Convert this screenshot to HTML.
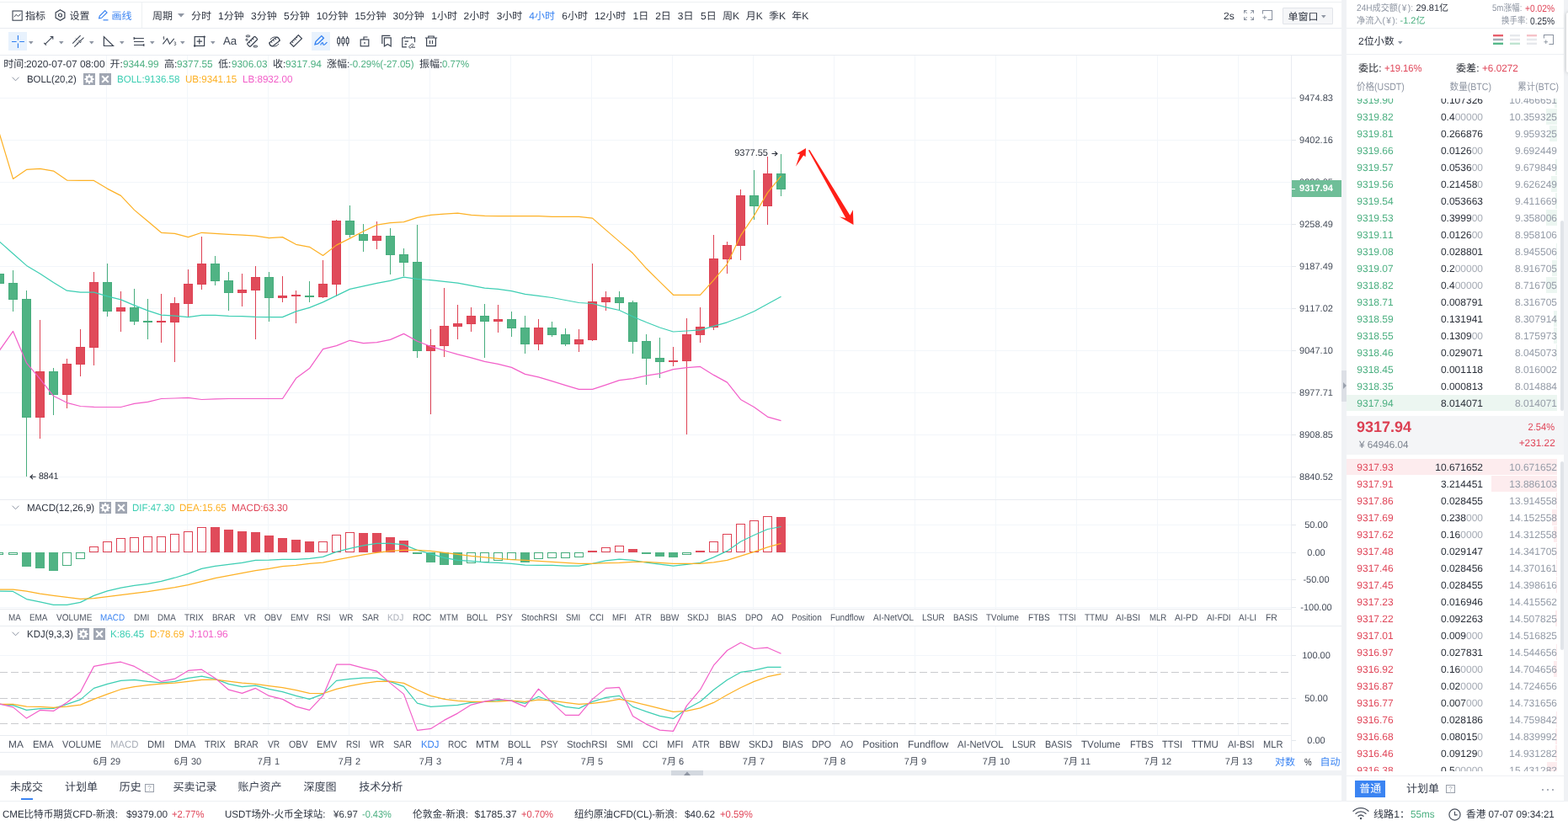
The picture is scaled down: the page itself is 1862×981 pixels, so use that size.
<!DOCTYPE html><html lang="zh"><head><meta charset="utf-8"><title>BTC/USDT</title><style>

html,body{margin:0;padding:0;background:#fff}
body{font-family:"Liberation Sans","Noto Sans CJK SC",sans-serif;font-size:12px;color:#2f3541;font-kerning:none;text-rendering:geometricPrecision}
#app{position:relative;width:1862px;height:981px;overflow:hidden;background:#fff}
.t{position:absolute;white-space:nowrap;line-height:16px;font-size:12px}
.t span{font-size:inherit}
.b{position:absolute}
.i{position:absolute;overflow:visible}
#chart{position:absolute;left:0;top:0}
.L{position:absolute;left:0;top:0;width:1862px;height:981px;will-change:transform}

</style></head><body>
<div id="app">
<svg id="chart" width="1862" height="981" viewBox="0 0 1862 981"><g shape-rendering="crispEdges"><rect x="126" y="66" width="1" height="527" fill="#f2f6fa"/><rect x="126" y="594" width="1" height="129" fill="#f2f6fa"/><rect x="126" y="744" width="1" height="129" fill="#f2f6fa"/><rect x="222" y="66" width="1" height="527" fill="#f2f6fa"/><rect x="222" y="594" width="1" height="129" fill="#f2f6fa"/><rect x="222" y="744" width="1" height="129" fill="#f2f6fa"/><rect x="318" y="66" width="1" height="527" fill="#f2f6fa"/><rect x="318" y="594" width="1" height="129" fill="#f2f6fa"/><rect x="318" y="744" width="1" height="129" fill="#f2f6fa"/><rect x="414" y="66" width="1" height="527" fill="#f2f6fa"/><rect x="414" y="594" width="1" height="129" fill="#f2f6fa"/><rect x="414" y="744" width="1" height="129" fill="#f2f6fa"/><rect x="510" y="66" width="1" height="527" fill="#f2f6fa"/><rect x="510" y="594" width="1" height="129" fill="#f2f6fa"/><rect x="510" y="744" width="1" height="129" fill="#f2f6fa"/><rect x="606" y="66" width="1" height="527" fill="#f2f6fa"/><rect x="606" y="594" width="1" height="129" fill="#f2f6fa"/><rect x="606" y="744" width="1" height="129" fill="#f2f6fa"/><rect x="702" y="66" width="1" height="527" fill="#f2f6fa"/><rect x="702" y="594" width="1" height="129" fill="#f2f6fa"/><rect x="702" y="744" width="1" height="129" fill="#f2f6fa"/><rect x="798" y="66" width="1" height="527" fill="#f2f6fa"/><rect x="798" y="594" width="1" height="129" fill="#f2f6fa"/><rect x="798" y="744" width="1" height="129" fill="#f2f6fa"/><rect x="894" y="66" width="1" height="527" fill="#f2f6fa"/><rect x="894" y="594" width="1" height="129" fill="#f2f6fa"/><rect x="894" y="744" width="1" height="129" fill="#f2f6fa"/><rect x="990" y="66" width="1" height="527" fill="#f2f6fa"/><rect x="990" y="594" width="1" height="129" fill="#f2f6fa"/><rect x="990" y="744" width="1" height="129" fill="#f2f6fa"/><rect x="1086" y="66" width="1" height="527" fill="#f2f6fa"/><rect x="1086" y="594" width="1" height="129" fill="#f2f6fa"/><rect x="1086" y="744" width="1" height="129" fill="#f2f6fa"/><rect x="1182" y="66" width="1" height="527" fill="#f2f6fa"/><rect x="1182" y="594" width="1" height="129" fill="#f2f6fa"/><rect x="1182" y="744" width="1" height="129" fill="#f2f6fa"/><rect x="1278" y="66" width="1" height="527" fill="#f2f6fa"/><rect x="1278" y="594" width="1" height="129" fill="#f2f6fa"/><rect x="1278" y="744" width="1" height="129" fill="#f2f6fa"/><rect x="1374" y="66" width="1" height="527" fill="#f2f6fa"/><rect x="1374" y="594" width="1" height="129" fill="#f2f6fa"/><rect x="1374" y="744" width="1" height="129" fill="#f2f6fa"/><rect x="1470" y="66" width="1" height="527" fill="#f2f6fa"/><rect x="1470" y="594" width="1" height="129" fill="#f2f6fa"/><rect x="1470" y="744" width="1" height="129" fill="#f2f6fa"/><rect x="0" y="116" width="1533" height="1" fill="#f2f6fa"/><rect x="0" y="166" width="1533" height="1" fill="#f2f6fa"/><rect x="0" y="216" width="1533" height="1" fill="#f2f6fa"/><rect x="0" y="266" width="1533" height="1" fill="#f2f6fa"/><rect x="0" y="316" width="1533" height="1" fill="#f2f6fa"/><rect x="0" y="366" width="1533" height="1" fill="#f2f6fa"/><rect x="0" y="416" width="1533" height="1" fill="#f2f6fa"/><rect x="0" y="466" width="1533" height="1" fill="#f2f6fa"/><rect x="0" y="516" width="1533" height="1" fill="#f2f6fa"/><rect x="0" y="566" width="1533" height="1" fill="#f2f6fa"/><rect x="0" y="623" width="1533" height="1" fill="#f2f6fa"/><rect x="0" y="656" width="1533" height="1" fill="#f2f6fa"/><rect x="0" y="688" width="1533" height="1" fill="#f2f6fa"/><rect x="0" y="721" width="1533" height="1" fill="#f2f6fa"/><rect x="0" y="778" width="1533" height="1" fill="#f2f6fa"/></g><line x1="0" y1="798.5" x2="1530" y2="798.5" stroke="#cacbce" stroke-width="1" stroke-dasharray="8.400 4.600" stroke-dashoffset="-0.200" shape-rendering="crispEdges"/><line x1="0" y1="829.5" x2="1530" y2="829.5" stroke="#cacbce" stroke-width="1" stroke-dasharray="8.400 4.600" stroke-dashoffset="-0.200" shape-rendering="crispEdges"/><line x1="0" y1="859.5" x2="1530" y2="859.5" stroke="#cacbce" stroke-width="1" stroke-dasharray="8.400 4.600" stroke-dashoffset="-0.200" shape-rendering="crispEdges"/><g shape-rendering="crispEdges"><rect x="-1" y="320" width="1" height="25" fill="#47ad7d"/><rect x="-6" y="325" width="11" height="12" fill="#47ad7d"/><rect x="-5" y="326" width="9" height="10" fill="#50b384"/><rect x="15" y="321" width="1" height="49" fill="#47ad7d"/><rect x="10" y="336" width="11" height="20" fill="#47ad7d"/><rect x="11" y="337" width="9" height="18" fill="#50b384"/><rect x="31" y="345" width="1" height="221" fill="#47ad7d"/><rect x="26" y="355" width="11" height="141" fill="#47ad7d"/><rect x="27" y="356" width="9" height="139" fill="#50b384"/><rect x="47" y="380" width="1" height="141" fill="#de4254"/><rect x="42" y="441" width="11" height="55" fill="#de4254"/><rect x="43" y="442" width="9" height="53" fill="#e04b5a"/><rect x="63" y="437" width="1" height="56" fill="#47ad7d"/><rect x="58" y="441" width="11" height="28" fill="#47ad7d"/><rect x="59" y="442" width="9" height="26" fill="#50b384"/><rect x="79" y="426" width="1" height="59" fill="#de4254"/><rect x="74" y="432" width="11" height="37" fill="#de4254"/><rect x="75" y="433" width="9" height="35" fill="#e04b5a"/><rect x="95" y="391" width="1" height="56" fill="#de4254"/><rect x="90" y="412" width="11" height="21" fill="#de4254"/><rect x="91" y="413" width="9" height="19" fill="#e04b5a"/><rect x="111" y="323" width="1" height="111" fill="#de4254"/><rect x="106" y="335" width="11" height="78" fill="#de4254"/><rect x="107" y="336" width="9" height="76" fill="#e04b5a"/><rect x="127" y="313" width="1" height="63" fill="#47ad7d"/><rect x="122" y="335" width="11" height="35" fill="#47ad7d"/><rect x="123" y="336" width="9" height="33" fill="#50b384"/><rect x="143" y="346" width="1" height="48" fill="#de4254"/><rect x="138" y="365" width="11" height="5" fill="#de4254"/><rect x="139" y="366" width="9" height="3" fill="#e04b5a"/><rect x="159" y="343" width="1" height="43" fill="#47ad7d"/><rect x="154" y="365" width="11" height="17" fill="#47ad7d"/><rect x="155" y="366" width="9" height="15" fill="#50b384"/><rect x="175" y="355" width="1" height="48" fill="#47ad7d"/><rect x="170" y="381" width="11" height="2" fill="#47ad7d"/><rect x="191" y="349" width="1" height="58" fill="#de4254"/><rect x="186" y="381" width="11" height="2" fill="#de4254"/><rect x="207" y="353" width="1" height="77" fill="#de4254"/><rect x="202" y="360" width="11" height="23" fill="#de4254"/><rect x="203" y="361" width="9" height="21" fill="#e04b5a"/><rect x="223" y="320" width="1" height="56" fill="#de4254"/><rect x="218" y="337" width="11" height="24" fill="#de4254"/><rect x="219" y="338" width="9" height="22" fill="#e04b5a"/><rect x="239" y="281" width="1" height="63" fill="#de4254"/><rect x="234" y="313" width="11" height="25" fill="#de4254"/><rect x="235" y="314" width="9" height="23" fill="#e04b5a"/><rect x="255" y="304" width="1" height="35" fill="#47ad7d"/><rect x="250" y="313" width="11" height="21" fill="#47ad7d"/><rect x="251" y="314" width="9" height="19" fill="#50b384"/><rect x="271" y="323" width="1" height="46" fill="#47ad7d"/><rect x="266" y="333" width="11" height="15" fill="#47ad7d"/><rect x="267" y="334" width="9" height="13" fill="#50b384"/><rect x="287" y="325" width="1" height="39" fill="#de4254"/><rect x="282" y="344" width="11" height="4" fill="#de4254"/><rect x="283" y="345" width="9" height="2" fill="#e04b5a"/><rect x="303" y="316" width="1" height="87" fill="#de4254"/><rect x="298" y="329" width="11" height="16" fill="#de4254"/><rect x="299" y="330" width="9" height="14" fill="#e04b5a"/><rect x="319" y="323" width="1" height="59" fill="#47ad7d"/><rect x="314" y="329" width="11" height="25" fill="#47ad7d"/><rect x="315" y="330" width="9" height="23" fill="#50b384"/><rect x="335" y="328" width="1" height="31" fill="#de4254"/><rect x="330" y="351" width="11" height="3" fill="#de4254"/><rect x="331" y="352" width="9" height="1" fill="#e04b5a"/><rect x="351" y="345" width="1" height="39" fill="#de4254"/><rect x="346" y="350" width="11" height="2" fill="#de4254"/><rect x="367" y="334" width="1" height="25" fill="#47ad7d"/><rect x="362" y="351" width="11" height="2" fill="#47ad7d"/><rect x="383" y="309" width="1" height="45" fill="#de4254"/><rect x="378" y="337" width="11" height="16" fill="#de4254"/><rect x="379" y="338" width="9" height="14" fill="#e04b5a"/><rect x="399" y="261" width="1" height="91" fill="#de4254"/><rect x="394" y="262" width="11" height="76" fill="#de4254"/><rect x="395" y="263" width="9" height="74" fill="#e04b5a"/><rect x="415" y="244" width="1" height="38" fill="#47ad7d"/><rect x="410" y="262" width="11" height="17" fill="#47ad7d"/><rect x="411" y="263" width="9" height="15" fill="#50b384"/><rect x="431" y="266" width="1" height="33" fill="#47ad7d"/><rect x="426" y="278" width="11" height="8" fill="#47ad7d"/><rect x="427" y="279" width="9" height="6" fill="#50b384"/><rect x="447" y="263" width="1" height="33" fill="#de4254"/><rect x="442" y="280" width="11" height="6" fill="#de4254"/><rect x="443" y="281" width="9" height="4" fill="#e04b5a"/><rect x="463" y="271" width="1" height="55" fill="#47ad7d"/><rect x="458" y="280" width="11" height="23" fill="#47ad7d"/><rect x="459" y="281" width="9" height="21" fill="#50b384"/><rect x="479" y="295" width="1" height="33" fill="#47ad7d"/><rect x="474" y="302" width="11" height="10" fill="#47ad7d"/><rect x="475" y="303" width="9" height="8" fill="#50b384"/><rect x="495" y="267" width="1" height="158" fill="#47ad7d"/><rect x="490" y="311" width="11" height="106" fill="#47ad7d"/><rect x="491" y="312" width="9" height="104" fill="#50b384"/><rect x="511" y="391" width="1" height="101" fill="#de4254"/><rect x="506" y="410" width="11" height="7" fill="#de4254"/><rect x="507" y="411" width="9" height="5" fill="#e04b5a"/><rect x="527" y="342" width="1" height="82" fill="#de4254"/><rect x="522" y="387" width="11" height="24" fill="#de4254"/><rect x="523" y="388" width="9" height="22" fill="#e04b5a"/><rect x="543" y="362" width="1" height="41" fill="#de4254"/><rect x="538" y="384" width="11" height="4" fill="#de4254"/><rect x="539" y="385" width="9" height="2" fill="#e04b5a"/><rect x="559" y="365" width="1" height="29" fill="#de4254"/><rect x="554" y="375" width="11" height="10" fill="#de4254"/><rect x="555" y="376" width="9" height="8" fill="#e04b5a"/><rect x="575" y="361" width="1" height="64" fill="#47ad7d"/><rect x="570" y="375" width="11" height="7" fill="#47ad7d"/><rect x="571" y="376" width="9" height="5" fill="#50b384"/><rect x="591" y="362" width="1" height="33" fill="#de4254"/><rect x="586" y="379" width="11" height="3" fill="#de4254"/><rect x="587" y="380" width="9" height="1" fill="#e04b5a"/><rect x="607" y="370" width="1" height="30" fill="#47ad7d"/><rect x="602" y="379" width="11" height="11" fill="#47ad7d"/><rect x="603" y="380" width="9" height="9" fill="#50b384"/><rect x="623" y="375" width="1" height="45" fill="#47ad7d"/><rect x="618" y="389" width="11" height="20" fill="#47ad7d"/><rect x="619" y="390" width="9" height="18" fill="#50b384"/><rect x="639" y="379" width="1" height="37" fill="#de4254"/><rect x="634" y="389" width="11" height="20" fill="#de4254"/><rect x="635" y="390" width="9" height="18" fill="#e04b5a"/><rect x="655" y="382" width="1" height="18" fill="#47ad7d"/><rect x="650" y="389" width="11" height="9" fill="#47ad7d"/><rect x="651" y="390" width="9" height="7" fill="#50b384"/><rect x="671" y="390" width="1" height="21" fill="#47ad7d"/><rect x="666" y="397" width="11" height="12" fill="#47ad7d"/><rect x="667" y="398" width="9" height="10" fill="#50b384"/><rect x="687" y="391" width="1" height="27" fill="#de4254"/><rect x="682" y="403" width="11" height="6" fill="#de4254"/><rect x="683" y="404" width="9" height="4" fill="#e04b5a"/><rect x="703" y="313" width="1" height="92" fill="#de4254"/><rect x="698" y="358" width="11" height="46" fill="#de4254"/><rect x="699" y="359" width="9" height="44" fill="#e04b5a"/><rect x="719" y="346" width="1" height="23" fill="#de4254"/><rect x="714" y="353" width="11" height="6" fill="#de4254"/><rect x="715" y="354" width="9" height="4" fill="#e04b5a"/><rect x="735" y="346" width="1" height="23" fill="#47ad7d"/><rect x="730" y="353" width="11" height="7" fill="#47ad7d"/><rect x="731" y="354" width="9" height="5" fill="#50b384"/><rect x="751" y="357" width="1" height="63" fill="#47ad7d"/><rect x="746" y="359" width="11" height="47" fill="#47ad7d"/><rect x="747" y="360" width="9" height="45" fill="#50b384"/><rect x="767" y="397" width="1" height="60" fill="#47ad7d"/><rect x="762" y="405" width="11" height="21" fill="#47ad7d"/><rect x="763" y="406" width="9" height="19" fill="#50b384"/><rect x="783" y="401" width="1" height="48" fill="#47ad7d"/><rect x="778" y="425" width="11" height="5" fill="#47ad7d"/><rect x="779" y="426" width="9" height="3" fill="#50b384"/><rect x="799" y="412" width="1" height="23" fill="#de4254"/><rect x="794" y="428" width="11" height="2" fill="#de4254"/><rect x="815" y="378" width="1" height="138" fill="#de4254"/><rect x="810" y="397" width="11" height="32" fill="#de4254"/><rect x="811" y="398" width="9" height="30" fill="#e04b5a"/><rect x="831" y="365" width="1" height="42" fill="#de4254"/><rect x="826" y="388" width="11" height="10" fill="#de4254"/><rect x="827" y="389" width="9" height="8" fill="#e04b5a"/><rect x="847" y="279" width="1" height="113" fill="#de4254"/><rect x="842" y="307" width="11" height="82" fill="#de4254"/><rect x="843" y="308" width="9" height="80" fill="#e04b5a"/><rect x="863" y="287" width="1" height="38" fill="#de4254"/><rect x="858" y="291" width="11" height="17" fill="#de4254"/><rect x="859" y="292" width="9" height="15" fill="#e04b5a"/><rect x="879" y="225" width="1" height="84" fill="#de4254"/><rect x="874" y="232" width="11" height="60" fill="#de4254"/><rect x="875" y="233" width="9" height="58" fill="#e04b5a"/><rect x="895" y="202" width="1" height="59" fill="#47ad7d"/><rect x="890" y="232" width="11" height="13" fill="#47ad7d"/><rect x="891" y="233" width="9" height="11" fill="#50b384"/><rect x="911" y="186" width="1" height="81" fill="#de4254"/><rect x="906" y="206" width="11" height="39" fill="#de4254"/><rect x="907" y="207" width="9" height="37" fill="#e04b5a"/><rect x="927" y="183" width="1" height="50" fill="#47ad7d"/><rect x="922" y="206" width="11" height="19" fill="#47ad7d"/><rect x="923" y="207" width="9" height="17" fill="#50b384"/></g><polyline points="-0.5,159.2 15.5,212.4 31.5,201.4 47.5,200.4 63.5,203.1 79.5,214.1 95.5,214.4 111.5,214.4 127.5,224.1 143.5,232.4 159.5,249.4 175.5,262.8 191.5,276.3 207.5,277.3 223.5,281.6 239.5,276.3 255.5,277.3 271.5,278.3 287.5,279.1 303.5,280.1 319.5,282.6 335.5,281.6 351.5,290.3 367.5,293.3 383.5,303.5 399.5,291.1 415.5,283.1 431.5,274.8 447.5,267.1 463.5,264.6 479.5,263.6 495.5,258.4 511.5,255.4 527.5,254.1 543.5,253.1 559.5,255.4 575.5,256.4 591.5,256.6 607.5,256.6 623.5,256.6 639.5,256.6 655.5,257.4 671.5,257.4 687.5,257.4 703.5,259.1 719.5,273.1 735.5,286.9 751.5,300.8 767.5,318.8 783.5,334.6 799.5,350.3 815.5,350.3 831.5,350.3 847.5,332.6 863.5,313.6 879.5,279.9 895.5,256.1 911.5,228.9 927.5,209.2" fill="none" stroke="#fdb125" stroke-width="1.2" stroke-linejoin="round"/><polyline points="-0.5,287.0 15.5,301.2 31.5,315.4 47.5,324.9 63.5,335.4 79.5,345.2 95.5,347.2 111.5,347.2 127.5,351.9 143.5,355.9 159.5,362.6 175.5,368.9 191.5,374.1 207.5,375.1 223.5,376.6 239.5,374.4 255.5,374.4 271.5,375.4 287.5,375.6 303.5,376.4 319.5,376.6 335.5,376.6 351.5,369.9 367.5,365.4 383.5,358.9 399.5,351.1 415.5,343.4 431.5,339.9 447.5,336.4 463.5,333.4 479.5,329.1 495.5,331.3 511.5,332.6 527.5,334.3 543.5,336.1 559.5,339.1 575.5,342.1 591.5,343.3 607.5,345.6 623.5,349.3 639.5,351.3 655.5,353.5 671.5,356.5 687.5,359.5 703.5,360.5 719.5,364.8 735.5,368.5 751.5,376.0 767.5,382.8 783.5,389.0 799.5,394.0 815.5,393.0 831.5,391.8 847.5,387.3 863.5,382.8 879.5,376.8 895.5,369.8 911.5,361.0 927.5,352.3" fill="none" stroke="#3dceb3" stroke-width="1.2" stroke-linejoin="round"/><polyline points="-0.5,416.1 15.5,393.4 31.5,431.1 47.5,449.8 63.5,470.3 79.5,478.3 95.5,482.5 111.5,483.3 127.5,483.5 143.5,483.5 159.5,479.3 175.5,477.3 191.5,473.5 207.5,473.0 223.5,472.3 239.5,474.5 255.5,473.8 271.5,473.5 287.5,473.5 303.5,473.5 319.5,473.5 335.5,473.5 351.5,449.3 367.5,437.6 383.5,414.6 399.5,410.6 415.5,404.3 431.5,407.6 447.5,406.6 463.5,403.4 479.5,396.4 495.5,405.2 511.5,411.4 527.5,416.2 543.5,420.9 559.5,424.9 575.5,429.4 591.5,432.4 607.5,436.4 623.5,444.4 639.5,447.9 655.5,452.6 671.5,457.6 687.5,462.4 703.5,462.4 719.5,457.1 735.5,451.6 751.5,449.6 767.5,446.1 783.5,443.6 799.5,438.6 815.5,436.6 831.5,435.4 847.5,445.4 863.5,454.1 879.5,474.4 895.5,483.6 911.5,495.1 927.5,499.6" fill="none" stroke="#f25fc9" stroke-width="1.2" stroke-linejoin="round"/><g shape-rendering="crispEdges"><rect x="-6.5" y="656.5" width="10" height="2" fill="#fff" stroke="#47ad7d" stroke-width="1"/><rect x="10.5" y="656.5" width="10" height="2" fill="#fff" stroke="#47ad7d" stroke-width="1"/><rect x="26" y="656" width="11" height="17" fill="#50b384"/><rect x="42" y="656" width="11" height="19" fill="#50b384"/><rect x="58" y="656" width="11" height="22" fill="#50b384"/><rect x="74.5" y="656.5" width="10" height="15" fill="#fff" stroke="#47ad7d" stroke-width="1"/><rect x="90.5" y="656.5" width="10" height="7" fill="#fff" stroke="#47ad7d" stroke-width="1"/><rect x="106.5" y="649.5" width="10" height="6" fill="#fff" stroke="#de4254" stroke-width="1"/><rect x="122.5" y="643.5" width="10" height="12" fill="#fff" stroke="#de4254" stroke-width="1"/><rect x="138.5" y="639.5" width="10" height="16" fill="#fff" stroke="#de4254" stroke-width="1"/><rect x="154.5" y="638.5" width="10" height="17" fill="#fff" stroke="#de4254" stroke-width="1"/><rect x="170.5" y="637.5" width="10" height="18" fill="#fff" stroke="#de4254" stroke-width="1"/><rect x="186.5" y="637.5" width="10" height="18" fill="#fff" stroke="#de4254" stroke-width="1"/><rect x="202.5" y="634.5" width="10" height="21" fill="#fff" stroke="#de4254" stroke-width="1"/><rect x="218.5" y="631.5" width="10" height="24" fill="#fff" stroke="#de4254" stroke-width="1"/><rect x="234.5" y="626.5" width="10" height="29" fill="#fff" stroke="#de4254" stroke-width="1"/><rect x="250" y="626" width="11" height="30" fill="#e04b5a"/><rect x="266" y="629" width="11" height="27" fill="#e04b5a"/><rect x="282" y="631" width="11" height="25" fill="#e04b5a"/><rect x="298" y="632" width="11" height="24" fill="#e04b5a"/><rect x="314" y="636" width="11" height="20" fill="#e04b5a"/><rect x="330" y="639" width="11" height="17" fill="#e04b5a"/><rect x="346" y="641" width="11" height="15" fill="#e04b5a"/><rect x="362" y="643" width="11" height="13" fill="#e04b5a"/><rect x="378.5" y="643.5" width="10" height="12" fill="#fff" stroke="#de4254" stroke-width="1"/><rect x="394.5" y="635.5" width="10" height="20" fill="#fff" stroke="#de4254" stroke-width="1"/><rect x="410.5" y="632.5" width="10" height="23" fill="#fff" stroke="#de4254" stroke-width="1"/><rect x="426" y="633" width="11" height="23" fill="#e04b5a"/><rect x="442" y="633" width="11" height="23" fill="#e04b5a"/><rect x="458" y="638" width="11" height="18" fill="#e04b5a"/><rect x="474" y="642" width="11" height="14" fill="#e04b5a"/><rect x="490" y="656" width="11" height="2" fill="#50b384"/><rect x="506" y="656" width="11" height="12" fill="#50b384"/><rect x="522" y="656" width="11" height="15" fill="#50b384"/><rect x="538" y="656" width="11" height="15" fill="#50b384"/><rect x="554.5" y="656.5" width="10" height="12" fill="#fff" stroke="#47ad7d" stroke-width="1"/><rect x="570.5" y="656.5" width="10" height="11" fill="#fff" stroke="#47ad7d" stroke-width="1"/><rect x="586.5" y="656.5" width="10" height="9" fill="#fff" stroke="#47ad7d" stroke-width="1"/><rect x="602.5" y="656.5" width="10" height="8" fill="#fff" stroke="#47ad7d" stroke-width="1"/><rect x="618" y="656" width="11" height="12" fill="#50b384"/><rect x="634.5" y="656.5" width="10" height="7" fill="#fff" stroke="#47ad7d" stroke-width="1"/><rect x="650.5" y="656.5" width="10" height="6" fill="#fff" stroke="#47ad7d" stroke-width="1"/><rect x="666.5" y="656.5" width="10" height="6" fill="#fff" stroke="#47ad7d" stroke-width="1"/><rect x="682.5" y="656.5" width="10" height="5" fill="#fff" stroke="#47ad7d" stroke-width="1"/><rect x="698" y="654" width="11" height="2" fill="#e04b5a"/><rect x="714.5" y="650.5" width="10" height="5" fill="#fff" stroke="#de4254" stroke-width="1"/><rect x="730.5" y="648.5" width="10" height="7" fill="#fff" stroke="#de4254" stroke-width="1"/><rect x="746" y="652" width="11" height="4" fill="#e04b5a"/><rect x="762" y="656" width="11" height="2" fill="#50b384"/><rect x="778" y="656" width="11" height="5" fill="#50b384"/><rect x="794" y="656" width="11" height="6" fill="#50b384"/><rect x="810.5" y="656.5" width="10" height="2" fill="#fff" stroke="#47ad7d" stroke-width="1"/><rect x="826" y="654" width="11" height="2" fill="#e04b5a"/><rect x="842.5" y="643.5" width="10" height="12" fill="#fff" stroke="#de4254" stroke-width="1"/><rect x="858.5" y="634.5" width="10" height="21" fill="#fff" stroke="#de4254" stroke-width="1"/><rect x="874.5" y="622.5" width="10" height="33" fill="#fff" stroke="#de4254" stroke-width="1"/><rect x="890.5" y="618.5" width="10" height="37" fill="#fff" stroke="#de4254" stroke-width="1"/><rect x="906.5" y="613.5" width="10" height="42" fill="#fff" stroke="#de4254" stroke-width="1"/><rect x="922" y="614" width="11" height="42" fill="#e04b5a"/></g><polyline points="-0.5,702.1 15.5,702.4 31.5,711.6 47.5,714.9 63.5,718.4 79.5,718.4 95.5,715.4 111.5,707.4 127.5,701.9 143.5,698.1 159.5,695.4 175.5,693.4 191.5,690.4 207.5,686.2 223.5,681.4 239.5,675.4 255.5,672.4 271.5,670.4 287.5,668.4 303.5,665.4 319.5,665.2 335.5,664.4 351.5,664.4 367.5,663.4 383.5,661.4 399.5,655.4 415.5,651.4 431.5,647.9 447.5,645.4 463.5,645.4 479.5,646.9 495.5,653.4 511.5,657.9 527.5,662.4 543.5,665.4 559.5,666.4 575.5,667.9 591.5,668.4 607.5,669.4 623.5,671.2 639.5,671.4 655.5,671.4 671.5,672.2 687.5,672.2 703.5,669.4 719.5,665.9 735.5,664.2 751.5,665.4 767.5,668.2 783.5,670.2 799.5,672.2 815.5,670.4 831.5,668.4 847.5,661.9 863.5,654.4 879.5,643.2 895.5,635.5 911.5,628.5 927.5,625.5" fill="none" stroke="#3dceb3" stroke-width="1.2" stroke-linejoin="round"/><polyline points="-0.5,700.1 15.5,700.1 31.5,702.1 47.5,705.1 63.5,707.4 79.5,709.4 95.5,711.4 111.5,710.6 127.5,708.6 143.5,706.6 159.5,704.6 175.5,702.6 191.5,700.1 207.5,697.6 223.5,694.6 239.5,690.6 255.5,686.7 271.5,683.7 287.5,680.7 303.5,677.7 319.5,675.4 335.5,672.7 351.5,671.4 367.5,669.4 383.5,668.2 399.5,664.9 415.5,661.9 431.5,658.9 447.5,656.4 463.5,654.4 479.5,653.4 495.5,653.4 511.5,654.4 527.5,656.4 543.5,658.4 559.5,660.4 575.5,661.9 591.5,663.4 607.5,664.7 623.5,665.4 639.5,666.4 655.5,667.4 671.5,668.4 687.5,669.4 703.5,669.4 719.5,668.7 735.5,668.4 751.5,667.4 767.5,667.4 783.5,668.4 799.5,669.4 815.5,669.4 831.5,669.4 847.5,667.9 863.5,665.4 879.5,660.4 895.5,655.4 911.5,649.9 927.5,645.4" fill="none" stroke="#fdb125" stroke-width="1.2" stroke-linejoin="round"/><polyline points="-0.5,836.4 15.5,837.6 31.5,843.4 47.5,841.6 63.5,841.4 79.5,836.4 95.5,830.9 111.5,817.4 127.5,812.4 143.5,808.4 159.5,807.4 175.5,809.4 191.5,810.9 207.5,809.4 223.5,805.4 239.5,803.2 255.5,806.4 271.5,812.4 287.5,815.7 303.5,814.2 319.5,818.4 335.5,821.7 351.5,826.4 367.5,830.4 383.5,824.4 399.5,808.4 415.5,806.4 431.5,805.2 447.5,805.2 463.5,809.6 479.5,815.4 495.5,835.2 511.5,839.4 527.5,838.4 543.5,837.4 559.5,834.4 575.5,833.4 591.5,831.7 607.5,832.2 623.5,835.4 639.5,827.2 655.5,833.4 671.5,839.4 687.5,841.4 703.5,833.4 719.5,828.4 735.5,826.4 751.5,839.4 767.5,845.1 783.5,850.4 799.5,853.4 815.5,842.1 831.5,833.2 847.5,819.2 863.5,807.4 879.5,798.4 895.5,796.2 911.5,792.4 927.5,792.4" fill="none" stroke="#3dceb3" stroke-width="1.2" stroke-linejoin="round"/><polyline points="-0.5,836.4 15.5,836.4 31.5,839.1 47.5,839.4 63.5,840.4 79.5,839.1 95.5,837.1 111.5,830.4 127.5,824.4 143.5,818.7 159.5,815.7 175.5,813.7 191.5,812.2 207.5,811.2 223.5,809.4 239.5,807.4 255.5,807.2 271.5,809.2 287.5,811.2 303.5,812.4 319.5,814.7 335.5,816.7 351.5,819.7 367.5,823.4 383.5,823.7 399.5,818.4 415.5,814.7 431.5,811.7 447.5,809.4 463.5,809.2 479.5,811.4 495.5,819.2 511.5,826.4 527.5,830.4 543.5,832.4 559.5,833.4 575.5,833.4 591.5,833.2 607.5,832.2 623.5,833.4 639.5,831.2 655.5,832.2 671.5,834.4 687.5,836.4 703.5,835.4 719.5,833.4 735.5,830.4 751.5,833.4 767.5,837.4 783.5,841.4 799.5,845.4 815.5,844.4 831.5,840.9 847.5,834.4 863.5,825.2 879.5,816.7 895.5,809.4 911.5,803.7 927.5,800.4" fill="none" stroke="#fdb125" stroke-width="1.2" stroke-linejoin="round"/><polyline points="-0.5,836.1 15.5,839.9 31.5,853.1 47.5,843.4 63.5,844.4 79.5,834.2 95.5,821.7 111.5,791.4 127.5,788.4 143.5,786.2 159.5,791.4 175.5,800.4 191.5,809.4 207.5,806.2 223.5,796.4 239.5,795.2 255.5,805.4 271.5,819.2 287.5,823.4 303.5,817.4 319.5,826.4 335.5,830.4 351.5,839.1 367.5,843.4 383.5,826.4 399.5,789.2 415.5,789.2 431.5,793.4 447.5,797.2 463.5,811.4 479.5,824.4 495.5,867.4 511.5,865.4 527.5,855.4 543.5,847.1 559.5,837.1 575.5,833.2 591.5,830.2 607.5,832.4 623.5,839.4 639.5,818.2 655.5,834.4 671.5,849.4 687.5,849.4 703.5,830.4 719.5,817.4 735.5,816.4 751.5,850.4 767.5,860.1 783.5,867.1 799.5,868.4 815.5,838.1 831.5,819.2 847.5,790.2 863.5,772.5 879.5,763.2 895.5,770.5 911.5,769.2 927.5,776.2" fill="none" stroke="#f25fc9" stroke-width="1.2" stroke-linejoin="round"/><polygon points="945,197.7 949.9,183.2 946.2,182.4 957,175.9 956.6,186.3 954.2,184.5" fill="#ff1f17"/><polygon points="959.900,178.600 1004.300,259 997,257.500 1013.500,267 1012.900,249.300 1009.400,255.700 961.400,177.900" fill="#ff1f17"/><g shape-rendering="crispEdges"><rect x="1533" y="66" width="1" height="827" fill="#e9ecf1"/><rect x="1534" y="116" width="5" height="1" fill="#e3e7ec"/><rect x="1534" y="166" width="5" height="1" fill="#e3e7ec"/><rect x="1534" y="216" width="5" height="1" fill="#e3e7ec"/><rect x="1534" y="266" width="5" height="1" fill="#e3e7ec"/><rect x="1534" y="316" width="5" height="1" fill="#e3e7ec"/><rect x="1534" y="366" width="5" height="1" fill="#e3e7ec"/><rect x="1534" y="416" width="5" height="1" fill="#e3e7ec"/><rect x="1534" y="466" width="5" height="1" fill="#e3e7ec"/><rect x="1534" y="516" width="5" height="1" fill="#e3e7ec"/><rect x="1534" y="566" width="5" height="1" fill="#e3e7ec"/><rect x="1534" y="623" width="5" height="1" fill="#e3e7ec"/><rect x="1534" y="656" width="5" height="1" fill="#e3e7ec"/><rect x="1534" y="688" width="5" height="1" fill="#e3e7ec"/><rect x="1534" y="721" width="5" height="1" fill="#e3e7ec"/><rect x="1534" y="778" width="5" height="1" fill="#e3e7ec"/><rect x="1534" y="829" width="5" height="1" fill="#e3e7ec"/><rect x="1534" y="879" width="5" height="1" fill="#e3e7ec"/></g><path d="M916.5 182.5h6.5m-3-2.7l3 2.7l-3 2.7" fill="none" stroke="#2a2f3a" stroke-width="1.1"/><path d="M42.500 566.300h-6.500m3-2.700l-3 2.700l3 2.700" fill="none" stroke="#2a2f3a" stroke-width="1.1"/></svg>
<div class="b" style="left:0px;top:2px;width:1593px;height:1px;background:#edf0f3;"></div>
<div class="b" style="left:0px;top:33px;width:1593px;height:1px;background:#e9ecf1;"></div>
<div class="b" style="left:168px;top:3px;width:1px;height:30px;background:#edf0f3;"></div>
<div class="b" style="left:0px;top:65px;width:1593px;height:1px;background:#e9ecf1;"></div>
<div class="b" style="left:0px;top:593px;width:1593px;height:1px;background:#e9ecf1;"></div>
<div class="b" style="left:0px;top:723px;width:1533px;height:1px;background:#e9ecf1;"></div>
<div class="b" style="left:0px;top:743px;width:1593px;height:1px;background:#e9ecf1;"></div>
<div class="b" style="left:0px;top:873px;width:1533px;height:1px;background:#e9ecf1;"></div>
<div class="b" style="left:0px;top:893px;width:1593px;height:1px;background:#e9ecf1;"></div>
<div class="b" style="left:0px;top:915px;width:1593px;height:6px;background:#f0f2f5;"></div>
<div class="b" style="left:797px;top:915px;width:38px;height:6px;background:#d3d8df;"></div>
<div class="b" style="left:0px;top:951px;width:1593px;height:1px;background:#edf0f3;"></div>
<div class="b" style="left:1593px;top:0px;width:6px;height:981px;background:#f0f2f5;"></div>
<div class="b" style="left:1593px;top:440px;width:6px;height:37px;background:#dcdfe5;"></div>
<div class="b" style="left:1857px;top:0px;width:5px;height:981px;background:#f0f2f5;"></div>
<div class="b" style="left:1523px;top:9px;width:58px;height:18px;background:#f5f6f8;border:1px solid #e1e4e9;box-sizing:content-box;border-radius:1px"></div>
<div class="b" style="left:0px;top:724px;width:1533px;height:19px;background:#fff;"></div>
<div class="b" style="left:0px;top:874px;width:1533px;height:19px;background:#fff;"></div>
<div class="b" style="left:25px;top:948px;width:14px;height:2px;background:#3b84f2;"></div>
<div class="b" style="left:1599px;top:0px;width:258px;height:981px;background:#fff;"></div>
<div class="b" style="left:1599px;top:33px;width:258px;height:1px;background:#edf0f3;"></div>
<div class="b" style="left:1599px;top:64px;width:258px;height:1px;background:#edf0f3;"></div>
<div class="b" style="left:1852.5px;top:262px;width:4px;height:226px;background:#e1e4e9;border-radius:2px"></div>
<div class="b" style="left:1852.5px;top:548px;width:4px;height:224px;background:#e1e4e9;border-radius:2px"></div>
<div class="b" style="left:1609px;top:927px;width:36px;height:20px;background:#3b84f2;"></div>
<div class="b" style="left:1831px;top:936.5px;width:2.4px;height:2.4px;background:#8f96a3;border-radius:50%"></div>
<div class="b" style="left:1837px;top:936.5px;width:2.4px;height:2.4px;background:#8f96a3;border-radius:50%"></div>
<div class="b" style="left:1843px;top:936.5px;width:2.4px;height:2.4px;background:#8f96a3;border-radius:50%"></div>
<div class="b" style="left:1599px;top:951px;width:258px;height:1px;background:#edf0f3;"></div>
<div class="b" style="left:1599px;top:921px;width:258px;height:1px;background:#eff1f4;"></div>
<div class="b" style="left:1593px;top:952px;width:269px;height:29px;background:#fff;"></div>
<div class="b" style="left:1859.500px;top:15px;width:10px;height:71px;background:#fff;box-shadow:0 0 5px rgba(0,0,0,.22);border-radius:2px"></div>
<div class="b" style="left:10px;top:38px;width:22px;height:22px;background:#e8f2fd;"></div>
<div class="b" style="left:370px;top:38px;width:22px;height:22px;background:#e8f2fd;"></div>
<div class="L">
<div class="b" style="left:1599px;top:116.5px;width:258px;height:372.5px;overflow:hidden"><div style="position:absolute;left:-1599px;top:-116.5px;width:1862px;height:981px">
<div class="b" style="left:1845.52px;top:109px;width:3.48197px;height:19px;background:#ecf6f1"></div>
<span class="t" style="left:1611.3px;top:110.5px;color:#4db082">9319.90</span>
<span class="t" style="right:101px;top:110.5px;color:#2a2f39">0.107326</span>
<span class="t" style="right:13px;top:110.5px;color:#959ca8">10.466651</span>
<div class="b" style="left:1836.02px;top:129px;width:12.9772px;height:19px;background:#ecf6f1"></div>
<span class="t" style="left:1611.3px;top:130.5px;color:#4db082">9319.82</span>
<span class="t" style="right:101px;top:130.5px;color:#2a2f39">0.4<span style="color:#a3a9b3">00000</span></span>
<span class="t" style="right:13px;top:130.5px;color:#959ca8">10.359325</span>
<div class="b" style="left:1840.34px;top:149px;width:8.65824px;height:19px;background:#ecf6f1"></div>
<span class="t" style="left:1611.3px;top:150.5px;color:#4db082">9319.81</span>
<span class="t" style="right:101px;top:150.5px;color:#2a2f39">0.266876</span>
<span class="t" style="right:13px;top:150.5px;color:#959ca8">9.959325</span>
<span class="t" style="left:1611.3px;top:170.5px;color:#4db082">9319.66</span>
<span class="t" style="right:101px;top:170.5px;color:#2a2f39">0.0126<span style="color:#a3a9b3">00</span></span>
<span class="t" style="right:13px;top:170.5px;color:#959ca8">9.692449</span>
<div class="b" style="left:1847.26px;top:189px;width:1.73894px;height:19px;background:#ecf6f1"></div>
<span class="t" style="left:1611.3px;top:190.5px;color:#4db082">9319.57</span>
<span class="t" style="right:101px;top:190.5px;color:#2a2f39">0.0536<span style="color:#a3a9b3">00</span></span>
<span class="t" style="right:13px;top:190.5px;color:#959ca8">9.679849</span>
<div class="b" style="left:1842.04px;top:209px;width:6.96161px;height:19px;background:#ecf6f1"></div>
<span class="t" style="left:1611.3px;top:210.5px;color:#4db082">9319.56</span>
<span class="t" style="right:101px;top:210.5px;color:#2a2f39">0.21458<span style="color:#a3a9b3">0</span></span>
<span class="t" style="right:13px;top:210.5px;color:#959ca8">9.626249</span>
<div class="b" style="left:1847.26px;top:229px;width:1.74099px;height:19px;background:#ecf6f1"></div>
<span class="t" style="left:1611.3px;top:230.5px;color:#4db082">9319.54</span>
<span class="t" style="right:101px;top:230.5px;color:#2a2f39">0.053663</span>
<span class="t" style="right:13px;top:230.5px;color:#959ca8">9.411669</span>
<div class="b" style="left:1836.03px;top:249px;width:12.9739px;height:19px;background:#ecf6f1"></div>
<span class="t" style="left:1611.3px;top:250.5px;color:#4db082">9319.53</span>
<span class="t" style="right:101px;top:250.5px;color:#2a2f39">0.3999<span style="color:#a3a9b3">00</span></span>
<span class="t" style="right:13px;top:250.5px;color:#959ca8">9.358006</span>
<span class="t" style="left:1611.3px;top:270.5px;color:#4db082">9319.11</span>
<span class="t" style="right:101px;top:270.5px;color:#2a2f39">0.0126<span style="color:#a3a9b3">00</span></span>
<span class="t" style="right:13px;top:270.5px;color:#959ca8">8.958106</span>
<div class="b" style="left:1848.07px;top:289px;width:0.934389px;height:19px;background:#ecf6f1"></div>
<span class="t" style="left:1611.3px;top:290.5px;color:#4db082">9319.08</span>
<span class="t" style="right:101px;top:290.5px;color:#2a2f39">0.028801</span>
<span class="t" style="right:13px;top:290.5px;color:#959ca8">8.945506</span>
<div class="b" style="left:1842.51px;top:309px;width:6.48859px;height:19px;background:#ecf6f1"></div>
<span class="t" style="left:1611.3px;top:310.5px;color:#4db082">9319.07</span>
<span class="t" style="right:101px;top:310.5px;color:#2a2f39">0.2<span style="color:#a3a9b3">00000</span></span>
<span class="t" style="right:13px;top:310.5px;color:#959ca8">8.916705</span>
<div class="b" style="left:1836.02px;top:329px;width:12.9772px;height:19px;background:#ecf6f1"></div>
<span class="t" style="left:1611.3px;top:330.5px;color:#4db082">9318.82</span>
<span class="t" style="right:101px;top:330.5px;color:#2a2f39">0.4<span style="color:#a3a9b3">00000</span></span>
<span class="t" style="right:13px;top:330.5px;color:#959ca8">8.716705</span>
<span class="t" style="left:1611.3px;top:350.5px;color:#4db082">9318.71</span>
<span class="t" style="right:101px;top:350.5px;color:#2a2f39">0.008791</span>
<span class="t" style="right:13px;top:350.5px;color:#959ca8">8.316705</span>
<div class="b" style="left:1844.72px;top:369px;width:4.28055px;height:19px;background:#ecf6f1"></div>
<span class="t" style="left:1611.3px;top:370.5px;color:#4db082">9318.59</span>
<span class="t" style="right:101px;top:370.5px;color:#2a2f39">0.131941</span>
<span class="t" style="right:13px;top:370.5px;color:#959ca8">8.307914</span>
<div class="b" style="left:1844.75px;top:389px;width:4.24678px;height:19px;background:#ecf6f1"></div>
<span class="t" style="left:1611.3px;top:390.5px;color:#4db082">9318.55</span>
<span class="t" style="right:101px;top:390.5px;color:#2a2f39">0.1309<span style="color:#a3a9b3">00</span></span>
<span class="t" style="right:13px;top:390.5px;color:#959ca8">8.175973</span>
<div class="b" style="left:1848.06px;top:409px;width:0.943149px;height:19px;background:#ecf6f1"></div>
<span class="t" style="left:1611.3px;top:410.5px;color:#4db082">9318.46</span>
<span class="t" style="right:101px;top:410.5px;color:#2a2f39">0.029071</span>
<span class="t" style="right:13px;top:410.5px;color:#959ca8">8.045073</span>
<span class="t" style="left:1611.3px;top:430.5px;color:#4db082">9318.45</span>
<span class="t" style="right:101px;top:430.5px;color:#2a2f39">0.001118</span>
<span class="t" style="right:13px;top:430.5px;color:#959ca8">8.016002</span>
<span class="t" style="left:1611.3px;top:450.5px;color:#4db082">9318.35</span>
<span class="t" style="right:101px;top:450.5px;color:#2a2f39">0.000813</span>
<span class="t" style="right:13px;top:450.5px;color:#959ca8">8.014884</span>
<div class="b" style="left:1599px;top:469px;width:250px;height:19px;background:#ecf6f1"></div>
<span class="t" style="left:1611.3px;top:470.5px;color:#4db082">9317.94</span>
<span class="t" style="right:101px;top:470.5px;color:#2a2f39">8.014071</span>
<span class="t" style="right:13px;top:470.5px;color:#959ca8">8.014071</span>
</div></div>
<div class="b" style="left:1599px;top:494px;width:258px;height:46px;background:#f4f5f7"></div>
<div class="b" style="left:1599px;top:544px;width:258px;height:372px;overflow:hidden"><div style="position:absolute;left:-1599px;top:-544px;width:1862px;height:981px">
<div class="b" style="left:1599px;top:545px;width:250px;height:19px;background:#fdecee"></div>
<span class="t" style="left:1611.3px;top:546.5px;color:#e0475a">9317.93</span>
<span class="t" style="right:101px;top:546.5px;color:#2a2f39">10.671652</span>
<span class="t" style="right:13px;top:546.5px;color:#959ca8">10.671652</span>
<div class="b" style="left:1770.68px;top:565px;width:78.3156px;height:19px;background:#fdecee"></div>
<span class="t" style="left:1611.3px;top:566.5px;color:#e0475a">9317.91</span>
<span class="t" style="right:101px;top:566.5px;color:#2a2f39">3.214451</span>
<span class="t" style="right:13px;top:566.5px;color:#959ca8">13.886103</span>
<div class="b" style="left:1848.31px;top:585px;width:0.693267px;height:19px;background:#fdecee"></div>
<span class="t" style="left:1611.3px;top:586.5px;color:#e0475a">9317.86</span>
<span class="t" style="right:101px;top:586.5px;color:#2a2f39">0.028455</span>
<span class="t" style="right:13px;top:586.5px;color:#959ca8">13.914558</span>
<div class="b" style="left:1843.2px;top:605px;width:5.79854px;height:19px;background:#fdecee"></div>
<span class="t" style="left:1611.3px;top:606.5px;color:#e0475a">9317.69</span>
<span class="t" style="right:101px;top:606.5px;color:#2a2f39">0.238<span style="color:#a3a9b3">000</span></span>
<span class="t" style="right:13px;top:606.5px;color:#959ca8">14.152558</span>
<div class="b" style="left:1845.1px;top:625px;width:3.89818px;height:19px;background:#fdecee"></div>
<span class="t" style="left:1611.3px;top:626.5px;color:#e0475a">9317.62</span>
<span class="t" style="right:101px;top:626.5px;color:#2a2f39">0.16<span style="color:#a3a9b3">0000</span></span>
<span class="t" style="right:13px;top:626.5px;color:#959ca8">14.312558</span>
<div class="b" style="left:1848.29px;top:645px;width:0.710126px;height:19px;background:#fdecee"></div>
<span class="t" style="left:1611.3px;top:646.5px;color:#e0475a">9317.48</span>
<span class="t" style="right:101px;top:646.5px;color:#2a2f39">0.029147</span>
<span class="t" style="right:13px;top:646.5px;color:#959ca8">14.341705</span>
<div class="b" style="left:1848.31px;top:665px;width:0.693291px;height:19px;background:#fdecee"></div>
<span class="t" style="left:1611.3px;top:666.5px;color:#e0475a">9317.46</span>
<span class="t" style="right:101px;top:666.5px;color:#2a2f39">0.028456</span>
<span class="t" style="right:13px;top:666.5px;color:#959ca8">14.370161</span>
<div class="b" style="left:1848.31px;top:685px;width:0.693267px;height:19px;background:#fdecee"></div>
<span class="t" style="left:1611.3px;top:686.5px;color:#e0475a">9317.45</span>
<span class="t" style="right:101px;top:686.5px;color:#2a2f39">0.028455</span>
<span class="t" style="right:13px;top:686.5px;color:#959ca8">14.398616</span>
<span class="t" style="left:1611.3px;top:706.5px;color:#e0475a">9317.23</span>
<span class="t" style="right:101px;top:706.5px;color:#2a2f39">0.016946</span>
<span class="t" style="right:13px;top:706.5px;color:#959ca8">14.415562</span>
<div class="b" style="left:1846.75px;top:725px;width:2.24786px;height:19px;background:#fdecee"></div>
<span class="t" style="left:1611.3px;top:726.5px;color:#e0475a">9317.22</span>
<span class="t" style="right:101px;top:726.5px;color:#2a2f39">0.092263</span>
<span class="t" style="right:13px;top:726.5px;color:#959ca8">14.507825</span>
<span class="t" style="left:1611.3px;top:746.5px;color:#e0475a">9317.01</span>
<span class="t" style="right:101px;top:746.5px;color:#2a2f39">0.009<span style="color:#a3a9b3">000</span></span>
<span class="t" style="right:13px;top:746.5px;color:#959ca8">14.516825</span>
<div class="b" style="left:1848.32px;top:765px;width:0.678064px;height:19px;background:#fdecee"></div>
<span class="t" style="left:1611.3px;top:766.5px;color:#e0475a">9316.97</span>
<span class="t" style="right:101px;top:766.5px;color:#2a2f39">0.027831</span>
<span class="t" style="right:13px;top:766.5px;color:#959ca8">14.544656</span>
<div class="b" style="left:1845.1px;top:785px;width:3.89818px;height:19px;background:#fdecee"></div>
<span class="t" style="left:1611.3px;top:786.5px;color:#e0475a">9316.92</span>
<span class="t" style="right:101px;top:786.5px;color:#2a2f39">0.16<span style="color:#a3a9b3">0000</span></span>
<span class="t" style="right:13px;top:786.5px;color:#959ca8">14.704656</span>
<span class="t" style="left:1611.3px;top:806.5px;color:#e0475a">9316.87</span>
<span class="t" style="right:101px;top:806.5px;color:#2a2f39">0.02<span style="color:#a3a9b3">0000</span></span>
<span class="t" style="right:13px;top:806.5px;color:#959ca8">14.724656</span>
<span class="t" style="left:1611.3px;top:826.5px;color:#e0475a">9316.77</span>
<span class="t" style="right:101px;top:826.5px;color:#2a2f39">0.007<span style="color:#a3a9b3">000</span></span>
<span class="t" style="right:13px;top:826.5px;color:#959ca8">14.731656</span>
<div class="b" style="left:1848.31px;top:845px;width:0.686713px;height:19px;background:#fdecee"></div>
<span class="t" style="left:1611.3px;top:846.5px;color:#e0475a">9316.76</span>
<span class="t" style="right:101px;top:846.5px;color:#2a2f39">0.028186</span>
<span class="t" style="right:13px;top:846.5px;color:#959ca8">14.759842</span>
<div class="b" style="left:1847.05px;top:865px;width:1.95274px;height:19px;background:#fdecee"></div>
<span class="t" style="left:1611.3px;top:866.5px;color:#e0475a">9316.68</span>
<span class="t" style="right:101px;top:866.5px;color:#2a2f39">0.08015<span style="color:#a3a9b3">0</span></span>
<span class="t" style="right:13px;top:866.5px;color:#959ca8">14.839992</span>
<div class="b" style="left:1846.78px;top:885px;width:2.22415px;height:19px;background:#fdecee"></div>
<span class="t" style="left:1611.3px;top:886.5px;color:#e0475a">9316.46</span>
<span class="t" style="right:101px;top:886.5px;color:#2a2f39">0.09129<span style="color:#a3a9b3">0</span></span>
<span class="t" style="right:13px;top:886.5px;color:#959ca8">14.931282</span>
<div class="b" style="left:1836.82px;top:905px;width:12.1818px;height:19px;background:#fdecee"></div>
<span class="t" style="left:1611.3px;top:906.5px;color:#e0475a">9316.38</span>
<span class="t" style="right:101px;top:906.5px;color:#2a2f39">0.5<span style="color:#a3a9b3">00000</span></span>
<span class="t" style="right:13px;top:906.5px;color:#959ca8">15.431282</span>
</div></div>
<span class="t" style="left:1563px;top:108.5px;font-size:11px;color:#454c59;transform:translateX(-50%)">9474.83</span>
<span class="t" style="left:1563px;top:158.5px;font-size:11px;color:#454c59;transform:translateX(-50%)">9402.16</span>
<span class="t" style="left:1563px;top:208.5px;font-size:11px;color:#454c59;transform:translateX(-50%)">9330.05</span>
<span class="t" style="left:1563px;top:258.5px;font-size:11px;color:#454c59;transform:translateX(-50%)">9258.49</span>
<span class="t" style="left:1563px;top:308.5px;font-size:11px;color:#454c59;transform:translateX(-50%)">9187.49</span>
<span class="t" style="left:1563px;top:358.5px;font-size:11px;color:#454c59;transform:translateX(-50%)">9117.02</span>
<span class="t" style="left:1563px;top:408.5px;font-size:11px;color:#454c59;transform:translateX(-50%)">9047.10</span>
<span class="t" style="left:1563px;top:458.5px;font-size:11px;color:#454c59;transform:translateX(-50%)">8977.71</span>
<span class="t" style="left:1563px;top:508.5px;font-size:11px;color:#454c59;transform:translateX(-50%)">8908.85</span>
<span class="t" style="left:1563px;top:558.5px;font-size:11px;color:#454c59;transform:translateX(-50%)">8840.52</span>
<span class="t" style="left:1563px;top:615.5px;font-size:11px;color:#454c59;transform:translateX(-50%)">50.00</span>
<span class="t" style="left:1563px;top:648.5px;font-size:11px;color:#454c59;transform:translateX(-50%)">0.00</span>
<span class="t" style="left:1563px;top:680.5px;font-size:11px;color:#454c59;transform:translateX(-50%)">-50.00</span>
<span class="t" style="left:1563px;top:713.5px;font-size:11px;color:#454c59;transform:translateX(-50%)">-100.00</span>
<span class="t" style="left:1563px;top:770.5px;font-size:11px;color:#454c59;transform:translateX(-50%)">100.00</span>
<span class="t" style="left:1563px;top:821.5px;font-size:11px;color:#454c59;transform:translateX(-50%)">50.00</span>
<span class="t" style="left:1563px;top:871.5px;font-size:11px;color:#454c59;transform:translateX(-50%)">0.00</span>
<span class="t" style="left:872.2px;top:174.4px;font-size:11px;color:#2a2f3a">9377.55</span>
<span class="t" style="left:46.3px;top:558px;font-size:11px;color:#2a2f3a;transform-origin:0 50%;transform:scaleX(0.960)">8841</span>
<span class="t" aria-label="指标" style="left:30px;top:10.6px">指标</span>
<span class="t" aria-label="设置" style="left:82.4px;top:10.6px">设置</span>
<span class="t" aria-label="画线" style="left:132.4px;top:10.6px;color:#3b84f2">画线</span>
<span class="t" aria-label="周期" style="left:181px;top:10.6px">周期</span>
<span class="t" aria-label="分时" style="left:227px;top:10.6px">分时</span>
<span class="t" aria-label="1分钟" style="left:259px;top:10.6px">1分钟</span>
<span class="t" aria-label="3分钟" style="left:298px;top:10.6px">3分钟</span>
<span class="t" aria-label="5分钟" style="left:337px;top:10.6px">5分钟</span>
<span class="t" aria-label="10分钟" style="left:375.8px;top:10.6px">10分钟</span>
<span class="t" aria-label="15分钟" style="left:421.2px;top:10.6px">15分钟</span>
<span class="t" aria-label="30分钟" style="left:466.5px;top:10.6px">30分钟</span>
<span class="t" aria-label="1小时" style="left:512.3px;top:10.6px">1小时</span>
<span class="t" aria-label="2小时" style="left:550.6px;top:10.6px">2小时</span>
<span class="t" aria-label="3小时" style="left:589.7px;top:10.6px">3小时</span>
<span class="t" aria-label="4小时" style="left:628.3px;top:10.6px;color:#3b84f2">4小时</span>
<span class="t" aria-label="6小时" style="left:667.3px;top:10.6px">6小时</span>
<span class="t" aria-label="12小时" style="left:705.9px;top:10.6px">12小时</span>
<span class="t" aria-label="1日" style="left:751.5px;top:10.6px">1日</span>
<span class="t" aria-label="2日" style="left:778.2px;top:10.6px">2日</span>
<span class="t" aria-label="3日" style="left:804.8px;top:10.6px">3日</span>
<span class="t" aria-label="5日" style="left:832.1px;top:10.6px">5日</span>
<span class="t" aria-label="周K" style="left:858px;top:10.6px">周K</span>
<span class="t" aria-label="月K" style="left:885.7px;top:10.6px">月K</span>
<span class="t" aria-label="季K" style="left:913px;top:10.6px">季K</span>
<span class="t" aria-label="年K" style="left:940.3px;top:10.6px">年K</span>
<span class="t" style="left:1453px;top:11.1px;transform-origin:0 50%;transform:scaleX(1.009)">2s</span>
<span class="t" aria-label="单窗口" style="left:1529.6px;top:11.5px">单窗口</span>
<span class="t" aria-label="时间:" style="left:4.2px;top:67.8px">时间:</span>
<span class="t" style="left:31px;top:67.8px;transform-origin:0 50%;transform:scaleX(0.987)">2020-07-07 08:00</span>
<span class="t" aria-label="开:" style="left:130.4px;top:67.8px">开:</span>
<span class="t" style="left:145.7px;top:67.8px;color:#4db082;transform-origin:0 50%;transform:scaleX(0.982)">9344.99</span>
<span class="t" aria-label="高:" style="left:195px;top:67.8px">高:</span>
<span class="t" style="left:210.3px;top:67.8px;color:#4db082;transform-origin:0 50%;transform:scaleX(0.982)">9377.55</span>
<span class="t" aria-label="低:" style="left:259px;top:67.8px">低:</span>
<span class="t" style="left:274.5px;top:67.8px;color:#4db082;transform-origin:0 50%;transform:scaleX(0.982)">9306.03</span>
<span class="t" aria-label="收:" style="left:324px;top:67.8px">收:</span>
<span class="t" style="left:338.6px;top:67.8px;color:#4db082;transform-origin:0 50%;transform:scaleX(0.991)">9317.94</span>
<span class="t" aria-label="涨幅:" style="left:388px;top:67.8px">涨幅:</span>
<span class="t" style="left:415px;top:67.8px;color:#4db082;transform-origin:0 50%;transform:scaleX(0.956)">-0.29%(-27.05)</span>
<span class="t" aria-label="振幅:" style="left:498px;top:67.8px">振幅:</span>
<span class="t" style="left:524.8px;top:67.8px;color:#4db082;transform-origin:0 50%;transform:scaleX(0.946)">0.77%</span>
<span class="t" style="left:31.8px;top:85.8px;transform-origin:0 50%;transform:scaleX(0.946)">BOLL(20,2)</span>
<span class="t" style="left:138.7px;top:85.8px;color:#3dceb3;transform-origin:0 50%;transform:scaleX(0.960)">BOLL:9136.58</span>
<span class="t" style="left:219.8px;top:85.8px;color:#fdb125;transform-origin:0 50%;transform:scaleX(0.965)">UB:9341.15</span>
<span class="t" style="left:288px;top:85.8px;color:#f25fc9;transform-origin:0 50%;transform:scaleX(0.968)">LB:8932.00</span>
<span class="t" style="left:31.6px;top:595px;transform-origin:0 50%;transform:scaleX(0.962)">MACD(12,26,9)</span>
<span class="t" style="left:156.7px;top:595px;color:#3dceb3;transform-origin:0 50%;transform:scaleX(0.958)">DIF:47.30</span>
<span class="t" style="left:213.3px;top:595px;color:#fdb125;transform-origin:0 50%;transform:scaleX(0.960)">DEA:15.65</span>
<span class="t" style="left:274.8px;top:595px;color:#e0475a;transform-origin:0 50%;transform:scaleX(0.972)">MACD:63.30</span>
<span class="t" style="left:31.6px;top:744.5px;transform-origin:0 50%;transform:scaleX(0.954)">KDJ(9,3,3)</span>
<span class="t" style="left:131.3px;top:744.5px;color:#3dceb3;transform-origin:0 50%;transform:scaleX(0.976)">K:86.45</span>
<span class="t" style="left:177.7px;top:744.5px;color:#fdb125;transform-origin:0 50%;transform:scaleX(0.968)">D:78.69</span>
<span class="t" style="left:224.7px;top:744.5px;color:#f25fc9">J:101.96</span>
<span class="t" style="left:10px;top:726px;font-size:11px;color:#4a515e;transform-origin:0 50%;transform:scaleX(0.897)">MA</span>
<span class="t" style="left:35px;top:726px;font-size:11px;color:#4a515e;transform-origin:0 50%;transform:scaleX(0.898)">EMA</span>
<span class="t" style="left:66.6px;top:726px;font-size:11px;color:#4a515e;transform-origin:0 50%;transform:scaleX(0.912)">VOLUME</span>
<span class="t" style="left:119.2px;top:726px;font-size:11px;color:#3b84f2;transform-origin:0 50%;transform:scaleX(0.898)">MACD</span>
<span class="t" style="left:158.5px;top:726px;font-size:11px;color:#4a515e;transform-origin:0 50%;transform:scaleX(0.907)">DMI</span>
<span class="t" style="left:187px;top:726px;font-size:11px;color:#4a515e;transform-origin:0 50%;transform:scaleX(0.892)">DMA</span>
<span class="t" style="left:219px;top:726px;font-size:11px;color:#4a515e;transform-origin:0 50%;transform:scaleX(0.910)">TRIX</span>
<span class="t" style="left:252px;top:726px;font-size:11px;color:#4a515e;transform-origin:0 50%;transform:scaleX(0.900)">BRAR</span>
<span class="t" style="left:289.7px;top:726px;font-size:11px;color:#4a515e;transform-origin:0 50%;transform:scaleX(0.903)">VR</span>
<span class="t" style="left:313.7px;top:726px;font-size:11px;color:#4a515e;transform-origin:0 50%;transform:scaleX(0.891)">OBV</span>
<span class="t" style="left:344.6px;top:726px;font-size:11px;color:#4a515e;transform-origin:0 50%;transform:scaleX(0.902)">EMV</span>
<span class="t" style="left:376.3px;top:726px;font-size:11px;color:#4a515e;transform-origin:0 50%;transform:scaleX(0.899)">RSI</span>
<span class="t" style="left:403px;top:726px;font-size:11px;color:#4a515e;transform-origin:0 50%;transform:scaleX(0.895)">WR</span>
<span class="t" style="left:429.6px;top:726px;font-size:11px;color:#4a515e;transform-origin:0 50%;transform:scaleX(0.893)">SAR</span>
<span class="t" style="left:460px;top:726px;font-size:11px;color:#a9aeb8;transform-origin:0 50%;transform:scaleX(0.929)">KDJ</span>
<span class="t" style="left:489.5px;top:726px;font-size:11px;color:#4a515e;transform-origin:0 50%;transform:scaleX(0.904)">ROC</span>
<span class="t" style="left:521.8px;top:726px;font-size:11px;color:#4a515e;transform-origin:0 50%;transform:scaleX(0.878)">MTM</span>
<span class="t" style="left:554px;top:726px;font-size:11px;color:#4a515e;transform-origin:0 50%;transform:scaleX(0.896)">BOLL</span>
<span class="t" style="left:589.4px;top:726px;font-size:11px;color:#4a515e;transform-origin:0 50%;transform:scaleX(0.895)">PSY</span>
<span class="t" style="left:619.3px;top:726px;font-size:11px;color:#4a515e;transform-origin:0 50%;transform:scaleX(0.921)">StochRSI</span>
<span class="t" style="left:672.3px;top:726px;font-size:11px;color:#4a515e;transform-origin:0 50%;transform:scaleX(0.874)">SMI</span>
<span class="t" style="left:699.6px;top:726px;font-size:11px;color:#4a515e;transform-origin:0 50%;transform:scaleX(0.902)">CCI</span>
<span class="t" style="left:726.9px;top:726px;font-size:11px;color:#4a515e;transform-origin:0 50%;transform:scaleX(0.881)">MFI</span>
<span class="t" style="left:753.8px;top:726px;font-size:11px;color:#4a515e;transform-origin:0 50%;transform:scaleX(0.900)">ATR</span>
<span class="t" style="left:783.8px;top:726px;font-size:11px;color:#4a515e;transform-origin:0 50%;transform:scaleX(0.894)">BBW</span>
<span class="t" style="left:816.4px;top:726px;font-size:11px;color:#4a515e;transform-origin:0 50%;transform:scaleX(0.903)">SKDJ</span>
<span class="t" style="left:852px;top:726px;font-size:11px;color:#4a515e;transform-origin:0 50%;transform:scaleX(0.897)">BIAS</span>
<span class="t" style="left:884.7px;top:726px;font-size:11px;color:#4a515e;transform-origin:0 50%;transform:scaleX(0.872)">DPO</span>
<span class="t" style="left:915.7px;top:726px;font-size:11px;color:#4a515e;transform-origin:0 50%;transform:scaleX(0.905)">AO</span>
<span class="t" style="left:940.3px;top:726px;font-size:11px;color:#4a515e;transform-origin:0 50%;transform:scaleX(0.915)">Position</span>
<span class="t" style="left:986.3px;top:726px;font-size:11px;color:#4a515e;transform-origin:0 50%;transform:scaleX(0.905)">Fundflow</span>
<span class="t" style="left:1036.9px;top:726px;font-size:11px;color:#4a515e;transform-origin:0 50%;transform:scaleX(0.904)">AI-NetVOL</span>
<span class="t" style="left:1095.2px;top:726px;font-size:11px;color:#4a515e;transform-origin:0 50%;transform:scaleX(0.910)">LSUR</span>
<span class="t" style="left:1132.1px;top:726px;font-size:11px;color:#4a515e;transform-origin:0 50%;transform:scaleX(0.898)">BASIS</span>
<span class="t" style="left:1171.4px;top:726px;font-size:11px;color:#4a515e;transform-origin:0 50%;transform:scaleX(0.883)">TVolume</span>
<span class="t" style="left:1220.5px;top:726px;font-size:11px;color:#4a515e;transform-origin:0 50%;transform:scaleX(0.917)">FTBS</span>
<span class="t" style="left:1256.5px;top:726px;font-size:11px;color:#4a515e;transform-origin:0 50%;transform:scaleX(0.872)">TTSI</span>
<span class="t" style="left:1287.5px;top:726px;font-size:11px;color:#4a515e;transform-origin:0 50%;transform:scaleX(0.904)">TTMU</span>
<span class="t" style="left:1325.3px;top:726px;font-size:11px;color:#4a515e;transform-origin:0 50%;transform:scaleX(0.912)">AI-BSI</span>
<span class="t" style="left:1364.5px;top:726px;font-size:11px;color:#4a515e;transform-origin:0 50%;transform:scaleX(0.874)">MLR</span>
<span class="t" style="left:1395px;top:726px;font-size:11px;color:#4a515e;transform-origin:0 50%;transform:scaleX(0.930)">AI-PD</span>
<span class="t" style="left:1432.5px;top:726px;font-size:11px;color:#4a515e;transform-origin:0 50%;transform:scaleX(0.900)">AI-FDI</span>
<span class="t" style="left:1471.3px;top:726px;font-size:11px;color:#4a515e;transform-origin:0 50%;transform:scaleX(0.904)">AI-LI</span>
<span class="t" style="left:1502.5px;top:726px;font-size:11px;color:#4a515e;transform-origin:0 50%;transform:scaleX(0.941)">FR</span>
<span class="t" style="left:10px;top:876px;color:#4a515e;transform-origin:0 50%;transform:scaleX(0.989)">MA</span>
<span class="t" style="left:38.6px;top:876px;color:#4a515e;transform-origin:0 50%;transform:scaleX(0.942)">EMA</span>
<span class="t" style="left:73.9px;top:876px;color:#4a515e;transform-origin:0 50%;transform:scaleX(0.911)">VOLUME</span>
<span class="t" style="left:130.9px;top:876px;color:#a9aeb8;transform-origin:0 50%;transform:scaleX(0.948)">MACD</span>
<span class="t" style="left:175.2px;top:876px;color:#4a515e;transform-origin:0 50%;transform:scaleX(0.932)">DMI</span>
<span class="t" style="left:206.5px;top:876px;color:#4a515e;transform-origin:0 50%;transform:scaleX(0.956)">DMA</span>
<span class="t" style="left:242.8px;top:876px;color:#4a515e;transform-origin:0 50%;transform:scaleX(0.907)">TRIX</span>
<span class="t" style="left:278.4px;top:876px;color:#4a515e;transform-origin:0 50%;transform:scaleX(0.864)">BRAR</span>
<span class="t" style="left:318px;top:876px;color:#4a515e;transform-origin:0 50%;transform:scaleX(0.852)">VR</span>
<span class="t" style="left:343px;top:876px;color:#4a515e;transform-origin:0 50%;transform:scaleX(0.888)">OBV</span>
<span class="t" style="left:376.3px;top:876px;color:#4a515e;transform-origin:0 50%;transform:scaleX(0.930)">EMV</span>
<span class="t" style="left:411.3px;top:876px;color:#4a515e;transform-origin:0 50%;transform:scaleX(0.839)">RSI</span>
<span class="t" style="left:438.9px;top:876px;color:#4a515e;transform-origin:0 50%;transform:scaleX(0.860)">WR</span>
<span class="t" style="left:466.9px;top:876px;color:#4a515e;transform-origin:0 50%;transform:scaleX(0.883)">SAR</span>
<span class="t" style="left:499.5px;top:876px;color:#3b84f2;transform-origin:0 50%;transform:scaleX(0.948)">KDJ</span>
<span class="t" style="left:531.8px;top:876px;color:#4a515e;transform-origin:0 50%;transform:scaleX(0.844)">ROC</span>
<span class="t" style="left:565.1px;top:876px;color:#4a515e">MTM</span>
<span class="t" style="left:603.3px;top:876px;color:#4a515e;transform-origin:0 50%;transform:scaleX(0.896)">BOLL</span>
<span class="t" style="left:641.6px;top:876px;color:#4a515e;transform-origin:0 50%;transform:scaleX(0.866)">PSY</span>
<span class="t" style="left:673.2px;top:876px;color:#4a515e;transform-origin:0 50%;transform:scaleX(0.951)">StochRSI</span>
<span class="t" style="left:732.2px;top:876px;color:#4a515e;transform-origin:0 50%;transform:scaleX(0.928)">SMI</span>
<span class="t" style="left:762.8px;top:876px;color:#4a515e;transform-origin:0 50%;transform:scaleX(0.880)">CCI</span>
<span class="t" style="left:791.8px;top:876px;color:#4a515e;transform-origin:0 50%;transform:scaleX(0.943)">MFI</span>
<span class="t" style="left:822.1px;top:876px;color:#4a515e;transform-origin:0 50%;transform:scaleX(0.867)">ATR</span>
<span class="t" style="left:853.7px;top:876px;color:#4a515e;transform-origin:0 50%;transform:scaleX(0.896)">BBW</span>
<span class="t" style="left:889px;top:876px;color:#4a515e;transform-origin:0 50%;transform:scaleX(0.942)">SKDJ</span>
<span class="t" style="left:928.7px;top:876px;color:#4a515e;transform-origin:0 50%;transform:scaleX(0.906)">BIAS</span>
<span class="t" style="left:964.3px;top:876px;color:#4a515e;transform-origin:0 50%;transform:scaleX(0.888)">DPO</span>
<span class="t" style="left:998.2px;top:876px;color:#4a515e;transform-origin:0 50%;transform:scaleX(0.876)">AO</span>
<span class="t" style="left:1024.2px;top:876px;color:#4a515e">Position</span>
<span class="t" style="left:1077.8px;top:876px;color:#4a515e;transform-origin:0 50%;transform:scaleX(0.996)">Fundflow</span>
<span class="t" style="left:1137.1px;top:876px;color:#4a515e;transform-origin:0 50%;transform:scaleX(0.939)">AI-NetVOL</span>
<span class="t" style="left:1202.4px;top:876px;color:#4a515e;transform-origin:0 50%;transform:scaleX(0.881)">LSUR</span>
<span class="t" style="left:1241.4px;top:876px;color:#4a515e;transform-origin:0 50%;transform:scaleX(0.908)">BASIS</span>
<span class="t" style="left:1284.3px;top:876px;color:#4a515e;transform-origin:0 50%;transform:scaleX(0.968)">TVolume</span>
<span class="t" style="left:1341.6px;top:876px;color:#4a515e;transform-origin:0 50%;transform:scaleX(0.906)">FTBS</span>
<span class="t" style="left:1380.2px;top:876px;color:#4a515e;transform-origin:0 50%;transform:scaleX(0.927)">TTSI</span>
<span class="t" style="left:1415.1px;top:876px;color:#4a515e;transform-origin:0 50%;transform:scaleX(0.957)">TTMU</span>
<span class="t" style="left:1457.8px;top:876px;color:#4a515e;transform-origin:0 50%;transform:scaleX(0.911)">AI-BSI</span>
<span class="t" style="left:1500.2px;top:876px;color:#4a515e;transform-origin:0 50%;transform:scaleX(0.927)">MLR</span>
<span class="t" aria-label="6月 29" style="left:127px;top:897px;font-size:11px;color:#454c59;transform:translateX(-50%)">6月 29</span>
<span class="t" aria-label="6月 30" style="left:223px;top:897px;font-size:11px;color:#454c59;transform:translateX(-50%)">6月 30</span>
<span class="t" aria-label="7月 1" style="left:319px;top:897px;font-size:11px;color:#454c59;transform:translateX(-50%)">7月 1</span>
<span class="t" aria-label="7月 2" style="left:415px;top:897px;font-size:11px;color:#454c59;transform:translateX(-50%)">7月 2</span>
<span class="t" aria-label="7月 3" style="left:511px;top:897px;font-size:11px;color:#454c59;transform:translateX(-50%)">7月 3</span>
<span class="t" aria-label="7月 4" style="left:607px;top:897px;font-size:11px;color:#454c59;transform:translateX(-50%)">7月 4</span>
<span class="t" aria-label="7月 5" style="left:703px;top:897px;font-size:11px;color:#454c59;transform:translateX(-50%)">7月 5</span>
<span class="t" aria-label="7月 6" style="left:799px;top:897px;font-size:11px;color:#454c59;transform:translateX(-50%)">7月 6</span>
<span class="t" aria-label="7月 7" style="left:895px;top:897px;font-size:11px;color:#454c59;transform:translateX(-50%)">7月 7</span>
<span class="t" aria-label="7月 8" style="left:991px;top:897px;font-size:11px;color:#454c59;transform:translateX(-50%)">7月 8</span>
<span class="t" aria-label="7月 9" style="left:1087px;top:897px;font-size:11px;color:#454c59;transform:translateX(-50%)">7月 9</span>
<span class="t" aria-label="7月 10" style="left:1183px;top:897px;font-size:11px;color:#454c59;transform:translateX(-50%)">7月 10</span>
<span class="t" aria-label="7月 11" style="left:1279px;top:897px;font-size:11px;color:#454c59;transform:translateX(-50%)">7月 11</span>
<span class="t" aria-label="7月 12" style="left:1375px;top:897px;font-size:11px;color:#454c59;transform:translateX(-50%)">7月 12</span>
<span class="t" aria-label="7月 13" style="left:1471px;top:897px;font-size:11px;color:#454c59;transform:translateX(-50%)">7月 13</span>
<span class="t" aria-label="对数" style="left:1514px;top:896.5px;color:#3b84f2">对数</span>
<span class="t" style="left:1548.5px;top:896.5px;transform-origin:0 50%;transform:scaleX(0.806)">%</span>
<span class="t" aria-label="自动" style="left:1567.4px;top:896.5px;color:#3b84f2">自动</span>
<span class="t" aria-label="未成交" style="left:12.1px;top:927.3px;font-size:13px;color:#3a4150">未成交</span>
<span class="t" aria-label="计划单" style="left:77px;top:927.3px;font-size:13px;color:#3a4150">计划单</span>
<span class="t" aria-label="历史" style="left:141.8px;top:927.3px;font-size:13px;color:#3a4150">历史</span>
<span class="t" aria-label="买卖记录" style="left:205.4px;top:927.3px;font-size:13px;color:#3a4150">买卖记录</span>
<span class="t" aria-label="账户资产" style="left:282.5px;top:927.3px;font-size:13px;color:#3a4150">账户资产</span>
<span class="t" aria-label="深度图" style="left:360.6px;top:927.3px;font-size:13px;color:#3a4150">深度图</span>
<span class="t" aria-label="技术分析" style="left:426.2px;top:927.3px;font-size:13px;color:#3a4150">技术分析</span>
<span class="t" aria-label="CME比特币期货CFD-新浪:" style="left:3.2px;top:959px;transform-origin:0 50%;transform:scaleX(0.960)">CME比特币期货CFD-新浪:</span>
<span class="t" style="left:149.6px;top:959px;transform-origin:0 50%;transform:scaleX(0.981)">$9379.00</span>
<span class="t" style="left:204px;top:959px;color:#e0475a;transform-origin:0 50%;transform:scaleX(0.938)">+2.77%</span>
<span class="t" aria-label="USDT场外-火币全球站:" style="left:267.2px;top:959px;transform-origin:0 50%;transform:scaleX(0.964)">USDT场外-火币全球站:</span>
<span class="t" style="left:395.5px;top:959px;transform-origin:0 50%;transform:scaleX(0.959)">¥6.97</span>
<span class="t" style="left:429.6px;top:959px;color:#4db082;transform-origin:0 50%;transform:scaleX(0.918)">-0.43%</span>
<span class="t" aria-label="伦敦金-新浪:" style="left:489.5px;top:959px;transform-origin:0 50%;transform:scaleX(0.979)">伦敦金-新浪:</span>
<span class="t" style="left:563.6px;top:959px">$1785.37</span>
<span class="t" style="left:619.3px;top:959px;color:#e0475a;transform-origin:0 50%;transform:scaleX(0.926)">+0.70%</span>
<span class="t" aria-label="纽约原油CFD(CL)-新浪:" style="left:682.3px;top:959px;transform-origin:0 50%;transform:scaleX(0.961)">纽约原油CFD(CL)-新浪:</span>
<span class="t" style="left:813.4px;top:959px;transform-origin:0 50%;transform:scaleX(0.986)">$40.62</span>
<span class="t" style="left:854.6px;top:959px;color:#e0475a;transform-origin:0 50%;transform:scaleX(0.943)">+0.59%</span>
<span class="t" style="left:1610.7px;top:1.6px;font-size:11px;color:#8f96a3;transform-origin:0 50%;transform:scaleX(0.921)">24H成交额(<span style="margin:0 1.5px">¥</span>):</span>
<span class="t" aria-label="29.81亿" style="left:1681.5px;top:1.8px;font-size:11px">29.81亿</span>
<span class="t" aria-label="5m涨幅:" style="left:1772px;top:1.6px;font-size:11px;color:#8f96a3;transform-origin:0 50%;transform:scaleX(0.877)">5m涨幅:</span>
<span class="t" style="right:16px;top:2px;color:#e0475a;transform-origin:100% 50%;transform:scaleX(0.853)">+0.02%</span>
<span class="t" style="left:1610.7px;top:17.4px;font-size:11px;color:#8f96a3;transform-origin:0 50%;transform:scaleX(0.923)">净流入(<span style="margin:0 1.5px">¥</span>):</span>
<span class="t" aria-label="-1.2亿" style="left:1662.5px;top:17.2px;font-size:11px;color:#4db082">-1.2亿</span>
<span class="t" aria-label="换手率:" style="left:1782.8px;top:17.4px;font-size:11px;color:#8f96a3;transform-origin:0 50%;transform:scaleX(0.860)">换手率:</span>
<span class="t" style="right:16px;top:17.2px;transform-origin:100% 50%;transform:scaleX(0.852)">0.25%</span>
<span class="t" aria-label="2位小数" style="left:1613px;top:40.8px">2位小数</span>
<span class="t" aria-label="委比:" style="left:1612.8px;top:72.8px;color:#22262e;transform-origin:0 50%;transform:scaleX(1.006)">委比:</span>
<span class="t" style="left:1643.6px;top:72.8px;color:#e0475a;transform-origin:0 50%;transform:scaleX(0.933)">+19.16%</span>
<span class="t" aria-label="委差:" style="left:1728.6px;top:72.8px;color:#22262e;transform-origin:0 50%;transform:scaleX(1.006)">委差:</span>
<span class="t" style="left:1759.5px;top:72.8px;color:#e0475a;transform-origin:0 50%;transform:scaleX(0.979)">+6.0272</span>
<span class="t" aria-label="价格(USDT)" style="left:1610.7px;top:95px;color:#8f96a3;transform-origin:0 50%;transform:scaleX(0.878)">价格(USDT)</span>
<span class="t" aria-label="数量(BTC)" style="right:91.5px;top:95px;color:#8f96a3;transform-origin:100% 50%;transform:scaleX(0.882)">数量(BTC)</span>
<span class="t" aria-label="累计(BTC)" style="right:11.5px;top:95px;color:#8f96a3;transform-origin:100% 50%;transform:scaleX(0.870)">累计(BTC)</span>
<span class="t" style="left:1611px;top:494.5px;font-size:18px;color:#dc3f52;font-weight:bold;line-height:24px">9317.94</span>
<span class="t" style="left:1614px;top:519.8px;color:#7d8490;transform-origin:0 50%;transform:scaleX(0.974)">¥ 64946.04</span>
<span class="t" style="right:15.6px;top:499.3px;color:#e0475a;transform-origin:100% 50%;transform:scaleX(0.926)">2.54%</span>
<span class="t" style="right:15.6px;top:517.6px;color:#e0475a;transform-origin:100% 50%;transform:scaleX(0.984)">+231.22</span>
<span class="t" aria-label="普通" style="left:1614.3px;top:929px;font-size:13px;color:#fff">普通</span>
<span class="t" aria-label="计划单" style="left:1670px;top:929px;font-size:13px;color:#3a4150">计划单</span>
<span class="t" aria-label="线路1：" style="left:1631px;top:959px;transform-origin:0 50%;transform:scaleX(1.007)">线路1：</span>
<span class="t" style="left:1674.6px;top:959px;color:#4db082;transform-origin:0 50%;transform:scaleX(0.975)">55ms</span>
<span class="t" aria-label="香港 07-07 09:34:21" style="left:1741px;top:959px;transform-origin:0 50%;transform:scaleX(0.970)">香港 07-07 09:34:21</span>
<span class="t" style="left:264.6px;top:41px;font-size:13.5px;color:#3d4553;transform-origin:0 50%;transform:scaleX(0.981)">Aa</span>
<div class="b" style="left:1534px;top:214px;width:59px;height:20px;background:#6fbe98"></div><div class="b" style="left:1534px;top:224px;width:4px;height:1px;background:#fff"></div>
<span class="t" style="left:1543px;top:216px;font-size:11px;color:#fff;font-weight:bold;transform-origin:0 50%;transform:scaleX(1.006)">9317.94</span>
</div>
<svg class="i" style="left:812px;top:916px" width="8" height="5" viewBox="0 0 8 5"><path d="M0 5l4-4.500l4 4.500z" fill="#8f96a3"/></svg>
<svg class="i" style="left:1594.500px;top:454px" width="4" height="8" viewBox="0 0 4 8"><path d="M0 0l4 4l-4 4z" fill="#9aa1ad"/></svg>
<svg class="i" style="left:99.3px;top:87px" width="14" height="14" viewBox="0 0 14 14"><rect width="14" height="14" fill="#a0a6b2"/><path fill="#fff" fill-rule="evenodd" d="M11.07 5.96L12.63 6.11L12.63 7.89L11.07 8.04L10.62 9.14L11.61 10.35L10.35 11.61L9.14 10.62L8.04 11.07L7.89 12.63L6.11 12.63L5.96 11.07L4.86 10.62L3.65 11.61L2.39 10.35L3.38 9.14L2.93 8.04L1.37 7.89L1.37 6.11L2.93 5.96L3.38 4.86L2.39 3.65L3.65 2.39L4.86 3.38L5.96 2.93L6.11 1.37L7.89 1.37L8.04 2.93L9.14 3.38L10.35 2.39L11.61 3.65L10.62 4.86ZM5.10 7.00a1.90 1.90 0 1 0 3.80 0a1.90 1.90 0 1 0 -3.80 0Z"/></svg>
<svg class="i" style="left:118px;top:87px" width="14" height="14" viewBox="0 0 14 14"><rect width="14" height="14" fill="#a0a6b2"/><path d="M3.2 3.2l7.6 7.6M10.800 3.2l-7.600 7.600" stroke="#fff" stroke-width="2"/></svg>
<svg class="i" style="left:13.500px;top:91px" width="9" height="6" viewBox="0 0 9 6"><path d="M0.500 0.700l4 4.100l4-4.100" fill="none" stroke="#8a92a0" stroke-width="1"/></svg>
<svg class="i" style="left:117.5px;top:596px" width="14" height="14" viewBox="0 0 14 14"><rect width="14" height="14" fill="#a0a6b2"/><path fill="#fff" fill-rule="evenodd" d="M11.07 5.96L12.63 6.11L12.63 7.89L11.07 8.04L10.62 9.14L11.61 10.35L10.35 11.61L9.14 10.62L8.04 11.07L7.89 12.63L6.11 12.63L5.96 11.07L4.86 10.62L3.65 11.61L2.39 10.35L3.38 9.14L2.93 8.04L1.37 7.89L1.37 6.11L2.93 5.96L3.38 4.86L2.39 3.65L3.65 2.39L4.86 3.38L5.96 2.93L6.11 1.37L7.89 1.37L8.04 2.93L9.14 3.38L10.35 2.39L11.61 3.65L10.62 4.86ZM5.10 7.00a1.90 1.90 0 1 0 3.80 0a1.90 1.90 0 1 0 -3.80 0Z"/></svg>
<svg class="i" style="left:136.7px;top:596px" width="14" height="14" viewBox="0 0 14 14"><rect width="14" height="14" fill="#a0a6b2"/><path d="M3.2 3.2l7.6 7.6M10.800 3.2l-7.600 7.600" stroke="#fff" stroke-width="2"/></svg>
<svg class="i" style="left:13.500px;top:600px" width="9" height="6" viewBox="0 0 9 6"><path d="M0.500 0.700l4 4.100l4-4.100" fill="none" stroke="#8a92a0" stroke-width="1"/></svg>
<svg class="i" style="left:91.8px;top:745.5px" width="14" height="14" viewBox="0 0 14 14"><rect width="14" height="14" fill="#a0a6b2"/><path fill="#fff" fill-rule="evenodd" d="M11.07 5.96L12.63 6.11L12.63 7.89L11.07 8.04L10.62 9.14L11.61 10.35L10.35 11.61L9.14 10.62L8.04 11.07L7.89 12.63L6.11 12.63L5.96 11.07L4.86 10.62L3.65 11.61L2.39 10.35L3.38 9.14L2.93 8.04L1.37 7.89L1.37 6.11L2.93 5.96L3.38 4.86L2.39 3.65L3.65 2.39L4.86 3.38L5.96 2.93L6.11 1.37L7.89 1.37L8.04 2.93L9.14 3.38L10.35 2.39L11.61 3.65L10.62 4.86ZM5.10 7.00a1.90 1.90 0 1 0 3.80 0a1.90 1.90 0 1 0 -3.80 0Z"/></svg>
<svg class="i" style="left:111px;top:745.5px" width="14" height="14" viewBox="0 0 14 14"><rect width="14" height="14" fill="#a0a6b2"/><path d="M3.2 3.2l7.6 7.6M10.800 3.2l-7.600 7.600" stroke="#fff" stroke-width="2"/></svg>
<svg class="i" style="left:13.500px;top:749.5px" width="9" height="6" viewBox="0 0 9 6"><path d="M0.500 0.700l4 4.100l4-4.100" fill="none" stroke="#8a92a0" stroke-width="1"/></svg>
<svg class="i" style="left:172.4px;top:931px" width="11" height="10" viewBox="0 0 11 10"><rect x="0.5" y="0.5" width="10" height="9" fill="none" stroke="#9aa0ab" stroke-width="1"/><path d="M4 3.6c0-1.6 3-1.6 3 0c0 1-1.5 1-1.5 2.1M5.5 6.9v1" fill="none" stroke="#9aa0ab" stroke-width="0.9"/></svg>
<svg class="i" style="left:1773px;top:40.800px" width="12" height="13" viewBox="0 0 12 13"><rect y="0" width="12" height="2.400" fill="#e75f6d"/><rect y="4.700" width="12" height="2.600" fill="#a4abb6"/><rect y="9.600" width="12" height="2.400" fill="#56b88a"/></svg>
<svg class="i" style="left:1793px;top:40.800px" width="12" height="13" viewBox="0 0 12 13"><rect y="0" width="12" height="2.400" fill="#e6e8ec"/><rect y="4.700" width="12" height="2.600" fill="#e6e8ec"/><rect y="9.600" width="12" height="2.400" fill="#bfe4d1"/></svg>
<svg class="i" style="left:1813px;top:40.800px" width="12" height="13" viewBox="0 0 12 13"><rect y="0" width="12" height="2.400" fill="#f5c2c8"/><rect y="4.700" width="12" height="2.600" fill="#e6e8ec"/><rect y="9.600" width="12" height="2.400" fill="#e6e8ec"/></svg>
<svg class="i" style="left:1832.8px;top:40.5px" width="12" height="12" viewBox="0 0 13 13"><path d="M0.500 5V0.500H12.500V12.500H7" fill="none" stroke="#8a92a0" stroke-width="1.100"/><path d="M0.5 9.5h5M3 7v5" fill="none" stroke="#8a92a0" stroke-width="1"/></svg>
<svg class="i" style="left:1717px;top:932px" width="11" height="10" viewBox="0 0 11 10"><rect x="0.5" y="0.5" width="10" height="9" fill="none" stroke="#9aa0ab" stroke-width="1"/><path d="M4 3.6c0-1.6 3-1.6 3 0c0 1-1.5 1-1.5 2.1M5.5 6.9v1" fill="none" stroke="#9aa0ab" stroke-width="0.9"/></svg>
<svg class="i" style="left:1606px;top:958px" width="20" height="16" viewBox="0 0 20 16"><g fill="none" stroke="#4a515e" stroke-width="1.3" stroke-linecap="round"><path d="M1 5.2c5-4.8 13-4.8 18 0"/><path d="M4 8.3c3.4-3.2 8.6-3.2 12 0"/><path d="M7 11.3c1.8-1.6 4.2-1.6 6 0"/></g><circle cx="10" cy="14" r="1.2" fill="#4a515e"/></svg>
<svg class="i" style="left:1720px;top:959.5px" width="15" height="15" viewBox="0 0 15 15"><circle cx="7.5" cy="7.5" r="6.6" fill="none" stroke="#4a515e" stroke-width="1.2"/><path d="M7.5 3.8v4h3.2" fill="none" stroke="#4a515e" stroke-width="1.2"/></svg>
<svg class="i" style="left:13.5px;top:11.5px" width="13" height="13" viewBox="0 0 13 13" fill="none" stroke="#3d4553" stroke-width="1.2"><rect x="1" y="1" width="11.200" height="11.200" stroke-width="1.100"/><path d="M2.800 8.200l2.500-3l2.200 2.200l3-2.800" stroke-width="1"/></svg>
<svg class="i" style="left:64.5px;top:10.5px" width="13" height="14" viewBox="0 0 13 14" fill="none" stroke="#3d4553" stroke-width="1.2"><path d="M6.5 0.8l5.4 3.1v6.2l-5.4 3.1l-5.4-3.1v-6.2z"/><circle cx="6.5" cy="7" r="2"/></svg>
<svg class="i" style="left:115.5px;top:10.5px" width="14" height="14" viewBox="0 0 14 14" fill="none" stroke="#3b84f2" stroke-width="1.2"><path d="M1.600 10.800l0.700-2.800l6.400-6.400l2.300 2.300l-6.400 6.400z"/><path d="M6.500 12.800h6"/></svg>
<svg class="i" style="left:211px;top:16.4px" width="8" height="4.4" viewBox="0 0 8 4.4"><path d="M0 0h8l-4 4.4z" fill="#8f96a3"/></svg>
<svg class="i" style="left:1476.8px;top:12px" width="12" height="12" viewBox="0 0 13 13" fill="none" stroke="#3d4553" stroke-width="1.2"><path d="M0.600 4V0.600H4M9 0.600h3.400V4M12.400 9v3.400H9M4 12.400H0.600V9" stroke="#8a92a0"/><path d="M0.800 0.800l3.400 3.400M12.200 0.800l-3.400 3.400M12.200 12.200l-3.400-3.400M0.800 12.200l3.400-3.400" stroke="#8a92a0" stroke-width="1"/></svg>
<svg class="i" style="left:1499px;top:12px" width="12" height="12" viewBox="0 0 13 13"><path d="M0.500 5V0.500H12.500V12.500H7" fill="none" stroke="#8a92a0" stroke-width="1.100"/><path d="M0.5 9.5h5M3 7v5" fill="none" stroke="#8a92a0" stroke-width="1"/></svg>
<svg class="i" style="left:1569px;top:18px" width="5.6" height="3.4" viewBox="0 0 5.6 3.4"><path d="M0 0h5.6l-2.8 3.4z" fill="#8f96a3"/></svg>
<svg class="i" style="left:1660px;top:48.8px" width="5.6" height="3.4" viewBox="0 0 5.6 3.4"><path d="M0 0h5.6l-2.8 3.4z" fill="#8f96a3"/></svg>
<svg class="i" style="left:13px;top:41px" width="17" height="17" viewBox="0 0 17 17" fill="none" stroke="#2f7ff0" stroke-width="1.150"><path d="M1 8.500h5.600M10.200 8.500h5.700M8.400 1v5.600M8.400 10.400v5.600"/></svg>
<svg class="i" style="left:34.2px;top:48.9px" width="5.6" height="3.4" viewBox="0 0 5.6 3.4"><path d="M0 0h5.6l-2.8 3.4z" fill="#8f96a3"/></svg>
<svg class="i" style="left:51px;top:41px" width="14" height="14" viewBox="0 0 14 14" fill="none" stroke="#3d4553" stroke-width="1.2"><path d="M2.600 11.300l9-8.600M8.600 2.500h3.200v3.200M1.300 10l2.600 2.700" stroke-width="1.100"/></svg>
<svg class="i" style="left:70.3px;top:48.9px" width="5.6" height="3.4" viewBox="0 0 5.6 3.4"><path d="M0 0h5.6l-2.8 3.4z" fill="#8f96a3"/></svg>
<svg class="i" style="left:85px;top:41px" width="16" height="16" viewBox="0 0 16 16" fill="none" stroke="#3d4553" stroke-width="1.2"><path d="M1.200 10.700l9.400-9.500M3.300 14.600l11.200-11" stroke-width="1.100"/><path d="M5 4.600l1.600 1.600M9.800 6.600l-1.700 1.700M11.600 8.400l-1.700 1.700M6.400 9.800l1.600 1.600" stroke-width="1"/></svg>
<svg class="i" style="left:106.4px;top:48.9px" width="5.6" height="3.4" viewBox="0 0 5.6 3.4"><path d="M0 0h5.6l-2.8 3.4z" fill="#8f96a3"/></svg>
<svg class="i" style="left:122px;top:42px" width="14" height="14" viewBox="0 0 14 14" fill="none" stroke="#3d4553" stroke-width="1.2"><path d="M1.4 1.6v10.9h11.1z"/></svg>
<svg class="i" style="left:142.2px;top:48.9px" width="5.6" height="3.4" viewBox="0 0 5.6 3.4"><path d="M0 0h5.6l-2.8 3.4z" fill="#8f96a3"/></svg>
<svg class="i" style="left:158px;top:43px" width="14" height="13" viewBox="0 0 14 13" fill="none" stroke="#3d4553" stroke-width="1.2"><path d="M1 2.5h11.9M1 6.5h11.9M1 10.5h11.9M1.2 1v3M12.800 9v3"/></svg>
<svg class="i" style="left:178.4px;top:48.9px" width="5.6" height="3.4" viewBox="0 0 5.6 3.4"><path d="M0 0h5.6l-2.8 3.4z" fill="#8f96a3"/></svg>
<svg class="i" style="left:192px;top:42px" width="18" height="14" viewBox="0 0 18 14" fill="none" stroke="#3d4553" stroke-width="1.2"><path d="M1.4 10.3l5.1-6.4l3 6.4l5.2-6.4" stroke-width="1.1"/><path d="M1.6 2.2l1-0.6v3.4" stroke-width="0.9"/><path d="M14.8 8.2c0.4-0.8 2-0.6 1.8 0.6c-0.1 0.6-0.6 0.8-1 0.8c0.6 0 1.2 0.3 1.2 1c0 1.2-1.8 1.4-2.2 0.4" stroke-width="0.8"/></svg>
<svg class="i" style="left:214.4px;top:48.9px" width="5.6" height="3.4" viewBox="0 0 5.6 3.4"><path d="M0 0h5.6l-2.8 3.4z" fill="#8f96a3"/></svg>
<svg class="i" style="left:229px;top:41px" width="16" height="16" viewBox="0 0 16 16" fill="none" stroke="#3d4553" stroke-width="1.2"><rect x="2.2" y="2.6" width="11.4" height="10.9"/><path d="M4.6 8.2h6.6M7.8 4.8v6.6"/><circle cx="13.6" cy="2.6" r="1.2" fill="#3d4553" stroke="none"/><circle cx="2.2" cy="13.5" r="1.2" fill="#3d4553" stroke="none"/></svg>
<svg class="i" style="left:250.3px;top:48.9px" width="5.6" height="3.4" viewBox="0 0 5.6 3.4"><path d="M0 0h5.6l-2.8 3.4z" fill="#8f96a3"/></svg>
<svg class="i" style="left:291px;top:41px" width="16" height="16" viewBox="0 0 16 16" fill="none" stroke="#3d4553" stroke-width="1.2"><rect x="1.2" y="1" width="4.6" height="1.8" rx="0.9" stroke-width="1"/><circle cx="2" cy="6.2" r="1.1" stroke-width="1"/><rect x="10" y="13.2" width="4.6" height="1.8" rx="0.9" stroke-width="1"/><g transform="rotate(-45 8.5 8.5)"><rect x="2.2" y="6" width="13" height="5" rx="1"/><path d="M5.5 6v2M8.5 6v2M11.5 6v2" stroke-width="1"/></g></svg>
<svg class="i" style="left:317.5px;top:41.5px" width="16" height="15" viewBox="0 0 16 15" fill="none" stroke="#3d4553" stroke-width="1.2"><g transform="rotate(-38 8 7.5)"><rect x="1.4" y="4.6" width="13" height="5.8" rx="2.6"/><path d="M5 4.8v2M8 4.8v2M11 4.8v2" stroke-width="1"/></g><path d="M3 5c3-4.5 10-4 11.5 1.5M13 10c-3 4.500-10 4-11.500-1.500" stroke-width="1"/></svg>
<svg class="i" style="left:343.5px;top:41px" width="15" height="15" viewBox="0 0 15 15" fill="none" stroke="#3d4553" stroke-width="1.2"><g transform="rotate(-45 7.500 7.500)"><rect x="0.600" y="4.600" width="13.800" height="5.800"/><path d="M3.500 4.600v2.200M6 4.600v1.600M8.500 4.600v2.200M11 4.600v1.600" stroke-width="1"/></g></svg>
<svg class="i" style="left:372.500px;top:41px" width="17" height="16" viewBox="0 0 17 16" fill="none" stroke="#2f7ff0" stroke-width="1.300"><path d="M1 11.800l1-3.400l6.800-6.800l2.600 2.600l-6.800 6.800z"/><path d="M7.600 12.600c1.600-3.600 2.800-3.600 3 -1.600c0.200 2 1.600 1.800 4.800-1.800" stroke-width="1.200"/></svg>
<svg class="i" style="left:398.5px;top:42px" width="17" height="14" viewBox="0 0 17 14" fill="none" stroke="#3d4553" stroke-width="1.2"><rect x="1.800" y="3.200" width="2.800" height="6.600" rx="1"/><rect x="7" y="3.200" width="2.800" height="6.600" rx="1"/><rect x="12.200" y="3.200" width="2.800" height="6.600" rx="1"/><path d="M3.200 1v2.200M3.200 9.800v3M8.400 1v2.200M8.400 9.800v3M13.600 1v2.200M13.600 9.800v3" stroke-width="1"/></svg>
<svg class="i" style="left:427px;top:42px" width="12" height="14" viewBox="0 0 12 14" fill="none" stroke="#3d4553" stroke-width="1.2"><rect x="1.200" y="5" width="9.600" height="7.800"/><path d="M5 5V2h4.500M6 8v2"/></svg>
<svg class="i" style="left:452px;top:41px" width="14" height="15" viewBox="0 0 14 15" fill="none" stroke="#3d4553" stroke-width="1.2"><path d="M1.800 11V1.400h9.600"/><path d="M4.400 3.800h7.800v10.200l-3.900-2.600l-3.900 2.600z"/></svg>
<svg class="i" style="left:476px;top:41.5px" width="18" height="15" viewBox="0 0 18 15" fill="none" stroke="#3d4553" stroke-width="1.2"><path d="M1.800 2.800v11h5" /><path d="M1.800 2.800h2M6 2.800h5.500M13.500 2.800h3v5.500M4.800 1v3M12.500 1v3M4.600 7.200h4.400M4.600 10.400h2.600"/><path d="M9.500 13.800l4-4l1.600 1.600l-4 4zM13 14.200h4" stroke-width="1"/></svg>
<svg class="i" style="left:503.5px;top:42px" width="16" height="14" viewBox="0 0 16 14" fill="none" stroke="#3d4553" stroke-width="1.2"><path d="M0.800 3h14.400M4.800 3V1h6.400v2M2.600 3v9.600h10.800V3M6.500 6v4M9.500 6v4"/></svg>
</div></body></html>
